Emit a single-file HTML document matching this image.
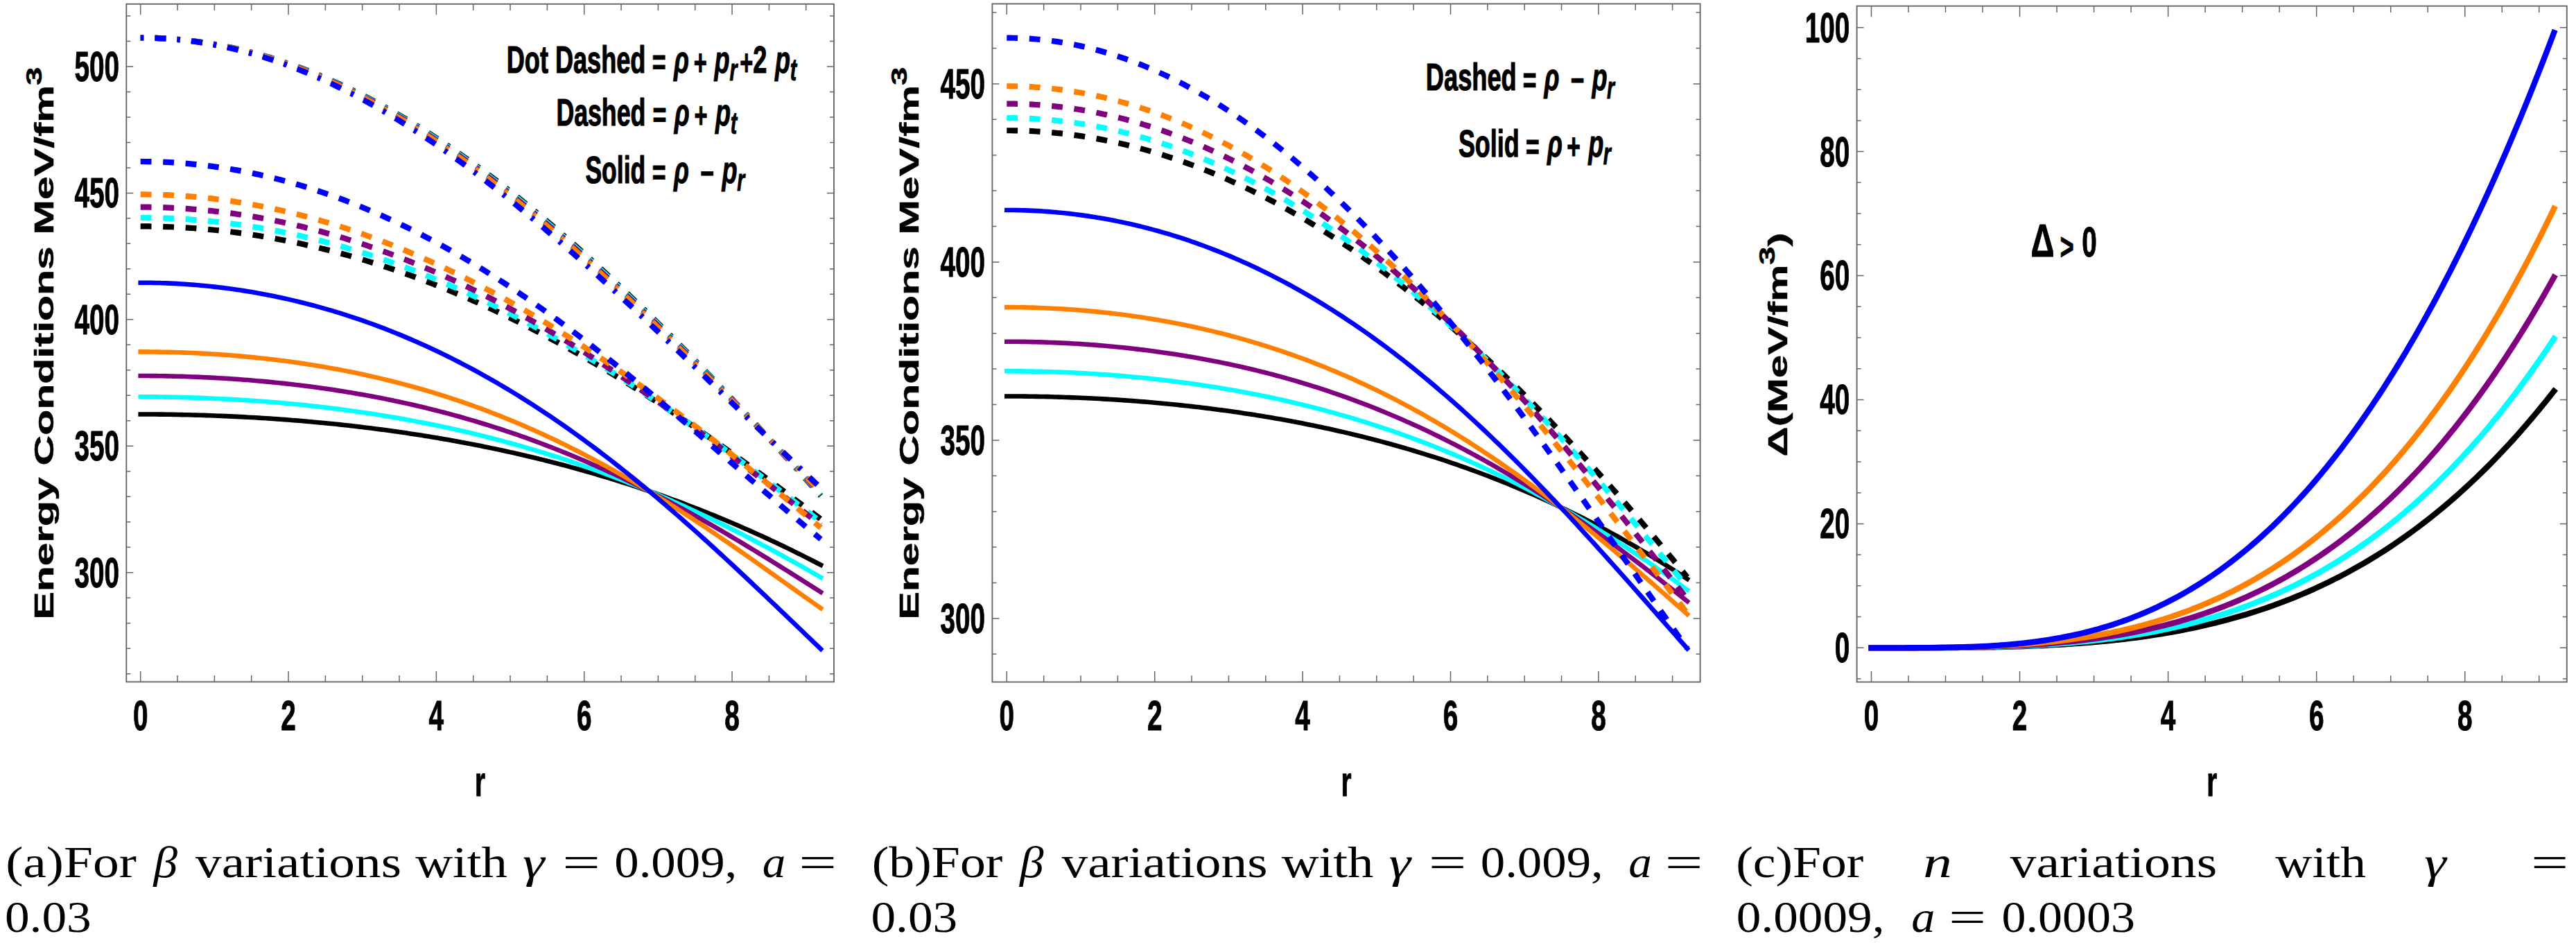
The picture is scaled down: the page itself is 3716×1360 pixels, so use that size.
<!DOCTYPE html><html><head><meta charset="utf-8"><title>Energy conditions and anisotropy</title><style>html,body{margin:0;padding:0;background:#fff}svg{display:block}</style></head><body>
<svg width="3716" height="1360" viewBox="0 0 3716 1360">
<rect width="3716" height="1360" fill="#fff"/>
<g fill="none">
<path d="M202.7 597.48 L208.03 597.48 L213.37 597.5 L218.7 597.52 L224.03 597.56 L229.37 597.6 L234.7 597.66 L240.03 597.72 L245.37 597.8 L250.7 597.88 L256.03 597.97 L261.37 598.08 L266.7 598.19 L272.04 598.32 L277.37 598.45 L282.7 598.6 L288.04 598.75 L293.37 598.92 L298.7 599.09 L304.04 599.28 L309.37 599.47 L314.7 599.68 L320.04 599.89 L325.37 600.12 L330.7 600.35 L336.04 600.6 L341.37 600.86 L346.7 601.12 L352.04 601.4 L357.37 601.69 L362.7 601.99 L368.04 602.3 L373.37 602.62 L378.71 602.95 L384.04 603.29 L389.37 603.64 L394.71 604 L400.04 604.37 L405.37 604.75 L410.71 605.15 L416.04 605.55 L421.37 605.97 L426.71 606.4 L432.04 606.83 L437.37 607.28 L442.71 607.74 L448.04 608.22 L453.37 608.7 L458.71 609.19 L464.04 609.7 L469.38 610.21 L474.71 610.74 L480.04 611.28 L485.38 611.83 L490.71 612.39 L496.04 612.97 L501.38 613.55 L506.71 614.15 L512.04 614.76 L517.38 615.38 L522.71 616.02 L528.04 616.66 L533.38 617.32 L538.71 617.99 L544.04 618.68 L549.38 619.37 L554.71 620.08 L560.04 620.8 L565.38 621.53 L570.71 622.28 L576.04 623.03 L581.38 623.8 L586.71 624.59 L592.05 625.39 L597.38 626.19 L602.71 627.02 L608.05 627.85 L613.38 628.7 L618.71 629.57 L624.05 630.44 L629.38 631.33 L634.71 632.24 L640.05 633.15 L645.38 634.08 L650.71 635.03 L656.05 635.99 L661.38 636.96 L666.71 637.95 L672.05 638.95 L677.38 639.96 L682.71 640.99 L688.05 642.04 L693.38 643.1 L698.72 644.17 L704.05 645.26 L709.38 646.36 L714.72 647.48 L720.05 648.61 L725.38 649.76 L730.72 650.92 L736.05 652.1 L741.38 653.3 L746.72 654.51 L752.05 655.73 L757.38 656.97 L762.72 658.23 L768.05 659.5 L773.38 660.79 L778.72 662.09 L784.05 663.41 L789.38 664.75 L794.72 666.1 L800.05 667.47 L805.39 668.86 L810.72 670.26 L816.05 671.68 L821.39 673.12 L826.72 674.57 L832.05 676.04 L837.39 677.53 L842.72 679.03 L848.05 680.55 L853.39 682.09 L858.72 683.65 L864.05 685.22 L869.39 686.81 L874.72 688.42 L880.05 690.05 L885.39 691.69 L890.72 693.35 L896.05 695.03 L901.39 696.73 L906.72 698.45 L912.06 700.18 L917.39 701.94 L922.72 703.71 L928.06 705.5 L933.39 707.31 L938.72 709.14 L944.06 710.98 L949.39 712.85 L954.72 714.73 L960.06 716.64 L965.39 718.56 L970.72 720.5 L976.06 722.47 L981.39 724.45 L986.72 726.45 L992.06 728.47 L997.39 730.51 L1002.72 732.57 L1008.06 734.65 L1013.39 736.75 L1018.73 738.86 L1024.06 741 L1029.39 743.16 L1034.73 745.34 L1040.06 747.54 L1045.39 749.76 L1050.73 752 L1056.06 754.26 L1061.39 756.54 L1066.73 758.84 L1072.06 761.16 L1077.39 763.51 L1082.73 765.87 L1088.06 768.25 L1093.39 770.66 L1098.73 773.08 L1104.06 775.53 L1109.39 778 L1114.73 780.49 L1120.06 783 L1125.4 785.53 L1130.73 788.08 L1136.06 790.65 L1141.4 793.24 L1146.73 795.86 L1152.06 798.5 L1157.4 801.15 L1162.73 803.83 L1168.06 806.53 L1173.4 809.25 L1178.73 812 L1184.06 814.76" stroke="#000000" stroke-width="6.6" stroke-linecap="square" stroke-linejoin="round"/>
<path d="M202.7 572.3 L208.03 572.31 L213.37 572.32 L218.7 572.35 L224.03 572.4 L229.37 572.45 L234.7 572.51 L240.03 572.59 L245.37 572.68 L250.7 572.78 L256.03 572.89 L261.37 573.02 L266.7 573.16 L272.04 573.31 L277.37 573.47 L282.7 573.64 L288.04 573.82 L293.37 574.02 L298.7 574.23 L304.04 574.45 L309.37 574.69 L314.7 574.93 L320.04 575.19 L325.37 575.46 L330.7 575.74 L336.04 576.04 L341.37 576.35 L346.7 576.67 L352.04 577 L357.37 577.35 L362.7 577.71 L368.04 578.08 L373.37 578.46 L378.71 578.86 L384.04 579.27 L389.37 579.69 L394.71 580.12 L400.04 580.57 L405.37 581.04 L410.71 581.51 L416.04 582 L421.37 582.5 L426.71 583.02 L432.04 583.55 L437.37 584.09 L442.71 584.65 L448.04 585.22 L453.37 585.8 L458.71 586.4 L464.04 587.01 L469.38 587.64 L474.71 588.28 L480.04 588.93 L485.38 589.6 L490.71 590.28 L496.04 590.98 L501.38 591.69 L506.71 592.42 L512.04 593.16 L517.38 593.92 L522.71 594.69 L528.04 595.48 L533.38 596.28 L538.71 597.1 L544.04 597.93 L549.38 598.78 L554.71 599.65 L560.04 600.53 L565.38 601.42 L570.71 602.33 L576.04 603.26 L581.38 604.2 L586.71 605.16 L592.05 606.14 L597.38 607.13 L602.71 608.14 L608.05 609.17 L613.38 610.21 L618.71 611.27 L624.05 612.35 L629.38 613.44 L634.71 614.55 L640.05 615.68 L645.38 616.82 L650.71 617.99 L656.05 619.17 L661.38 620.36 L666.71 621.58 L672.05 622.81 L677.38 624.06 L682.71 625.33 L688.05 626.62 L693.38 627.93 L698.72 629.25 L704.05 630.59 L709.38 631.96 L714.72 633.34 L720.05 634.73 L725.38 636.15 L730.72 637.59 L736.05 639.04 L741.38 640.52 L746.72 642.01 L752.05 643.52 L757.38 645.06 L762.72 646.61 L768.05 648.18 L773.38 649.77 L778.72 651.38 L784.05 653.01 L789.38 654.66 L794.72 656.33 L800.05 658.02 L805.39 659.73 L810.72 661.46 L816.05 663.21 L821.39 664.98 L826.72 666.77 L832.05 668.59 L837.39 670.42 L842.72 672.27 L848.05 674.14 L853.39 676.03 L858.72 677.95 L864.05 679.88 L869.39 681.84 L874.72 683.81 L880.05 685.81 L885.39 687.83 L890.72 689.86 L896.05 691.92 L901.39 694 L906.72 696.1 L912.06 698.22 L917.39 700.37 L922.72 702.53 L928.06 704.71 L933.39 706.92 L938.72 709.14 L944.06 711.39 L949.39 713.66 L954.72 715.94 L960.06 718.25 L965.39 720.58 L970.72 722.93 L976.06 725.3 L981.39 727.69 L986.72 730.1 L992.06 732.53 L997.39 734.99 L1002.72 737.46 L1008.06 739.95 L1013.39 742.46 L1018.73 745 L1024.06 747.55 L1029.39 750.12 L1034.73 752.71 L1040.06 755.33 L1045.39 757.96 L1050.73 760.61 L1056.06 763.28 L1061.39 765.97 L1066.73 768.68 L1072.06 771.4 L1077.39 774.15 L1082.73 776.92 L1088.06 779.7 L1093.39 782.5 L1098.73 785.32 L1104.06 788.15 L1109.39 791.01 L1114.73 793.88 L1120.06 796.77 L1125.4 799.68 L1130.73 802.6 L1136.06 805.54 L1141.4 808.49 L1146.73 811.46 L1152.06 814.45 L1157.4 817.45 L1162.73 820.47 L1168.06 823.5 L1173.4 826.55 L1178.73 829.61 L1184.06 832.69" stroke="#00ffff" stroke-width="6.6" stroke-linecap="square" stroke-linejoin="round"/>
<path d="M202.7 542.04 L208.03 542.05 L213.37 542.07 L218.7 542.1 L224.03 542.15 L229.37 542.22 L234.7 542.3 L240.03 542.39 L245.37 542.49 L250.7 542.61 L256.03 542.75 L261.37 542.9 L266.7 543.06 L272.04 543.24 L277.37 543.43 L282.7 543.64 L288.04 543.86 L293.37 544.1 L298.7 544.35 L304.04 544.61 L309.37 544.89 L314.7 545.19 L320.04 545.5 L325.37 545.82 L330.7 546.16 L336.04 546.52 L341.37 546.89 L346.7 547.27 L352.04 547.67 L357.37 548.08 L362.7 548.52 L368.04 548.96 L373.37 549.42 L378.71 549.9 L384.04 550.39 L389.37 550.9 L394.71 551.43 L400.04 551.97 L405.37 552.52 L410.71 553.1 L416.04 553.69 L421.37 554.29 L426.71 554.91 L432.04 555.55 L437.37 556.21 L442.71 556.88 L448.04 557.57 L453.37 558.28 L458.71 559 L464.04 559.74 L469.38 560.5 L474.71 561.28 L480.04 562.07 L485.38 562.88 L490.71 563.71 L496.04 564.56 L501.38 565.43 L506.71 566.31 L512.04 567.22 L517.38 568.14 L522.71 569.08 L528.04 570.04 L533.38 571.02 L538.71 572.01 L544.04 573.03 L549.38 574.06 L554.71 575.12 L560.04 576.2 L565.38 577.29 L570.71 578.4 L576.04 579.54 L581.38 580.69 L586.71 581.87 L592.05 583.07 L597.38 584.28 L602.71 585.52 L608.05 586.78 L613.38 588.06 L618.71 589.36 L624.05 590.68 L629.38 592.02 L634.71 593.39 L640.05 594.77 L645.38 596.18 L650.71 597.61 L656.05 599.06 L661.38 600.54 L666.71 602.03 L672.05 603.55 L677.38 605.09 L682.71 606.66 L688.05 608.24 L693.38 609.85 L698.72 611.48 L704.05 613.14 L709.38 614.82 L714.72 616.52 L720.05 618.24 L725.38 619.99 L730.72 621.76 L736.05 623.56 L741.38 625.38 L746.72 627.22 L752.05 629.09 L757.38 630.98 L762.72 632.89 L768.05 634.83 L773.38 636.79 L778.72 638.78 L784.05 640.79 L789.38 642.83 L794.72 644.89 L800.05 646.97 L805.39 649.08 L810.72 651.21 L816.05 653.37 L821.39 655.55 L826.72 657.75 L832.05 659.98 L837.39 662.24 L842.72 664.52 L848.05 666.82 L853.39 669.15 L858.72 671.5 L864.05 673.87 L869.39 676.27 L874.72 678.7 L880.05 681.15 L885.39 683.62 L890.72 686.11 L896.05 688.63 L901.39 691.18 L906.72 693.75 L912.06 696.34 L917.39 698.95 L922.72 701.59 L928.06 704.25 L933.39 706.94 L938.72 709.64 L944.06 712.37 L949.39 715.13 L954.72 717.9 L960.06 720.7 L965.39 723.52 L970.72 726.36 L976.06 729.22 L981.39 732.1 L986.72 735.01 L992.06 737.93 L997.39 740.88 L1002.72 743.85 L1008.06 746.83 L1013.39 749.84 L1018.73 752.87 L1024.06 755.91 L1029.39 758.97 L1034.73 762.06 L1040.06 765.16 L1045.39 768.27 L1050.73 771.41 L1056.06 774.56 L1061.39 777.73 L1066.73 780.91 L1072.06 784.11 L1077.39 787.33 L1082.73 790.56 L1088.06 793.8 L1093.39 797.06 L1098.73 800.33 L1104.06 803.61 L1109.39 806.9 L1114.73 810.21 L1120.06 813.53 L1125.4 816.85 L1130.73 820.19 L1136.06 823.54 L1141.4 826.89 L1146.73 830.25 L1152.06 833.62 L1157.4 837 L1162.73 840.38 L1168.06 843.76 L1173.4 847.15 L1178.73 850.55 L1184.06 853.94" stroke="#800080" stroke-width="6.6" stroke-linecap="square" stroke-linejoin="round"/>
<path d="M202.7 507.38 L208.03 507.39 L213.37 507.41 L218.7 507.45 L224.03 507.51 L229.37 507.59 L234.7 507.68 L240.03 507.79 L245.37 507.92 L250.7 508.06 L256.03 508.22 L261.37 508.4 L266.7 508.6 L272.04 508.81 L277.37 509.04 L282.7 509.29 L288.04 509.55 L293.37 509.83 L298.7 510.13 L304.04 510.45 L309.37 510.78 L314.7 511.13 L320.04 511.5 L325.37 511.89 L330.7 512.3 L336.04 512.72 L341.37 513.16 L346.7 513.62 L352.04 514.1 L357.37 514.6 L362.7 515.11 L368.04 515.64 L373.37 516.2 L378.71 516.77 L384.04 517.36 L389.37 517.97 L394.71 518.6 L400.04 519.25 L405.37 519.91 L410.71 520.6 L416.04 521.31 L421.37 522.03 L426.71 522.78 L432.04 523.55 L437.37 524.34 L442.71 525.14 L448.04 525.97 L453.37 526.82 L458.71 527.69 L464.04 528.58 L469.38 529.5 L474.71 530.43 L480.04 531.39 L485.38 532.36 L490.71 533.36 L496.04 534.38 L501.38 535.43 L506.71 536.49 L512.04 537.58 L517.38 538.69 L522.71 539.83 L528.04 540.99 L533.38 542.17 L538.71 543.37 L544.04 544.6 L549.38 545.85 L554.71 547.13 L560.04 548.43 L565.38 549.75 L570.71 551.1 L576.04 552.47 L581.38 553.87 L586.71 555.29 L592.05 556.74 L597.38 558.21 L602.71 559.71 L608.05 561.23 L613.38 562.78 L618.71 564.36 L624.05 565.96 L629.38 567.59 L634.71 569.24 L640.05 570.92 L645.38 572.63 L650.71 574.36 L656.05 576.13 L661.38 577.91 L666.71 579.73 L672.05 581.57 L677.38 583.44 L682.71 585.34 L688.05 587.27 L693.38 589.22 L698.72 591.2 L704.05 593.21 L709.38 595.25 L714.72 597.32 L720.05 599.41 L725.38 601.53 L730.72 603.69 L736.05 605.87 L741.38 608.07 L746.72 610.31 L752.05 612.58 L757.38 614.87 L762.72 617.2 L768.05 619.55 L773.38 621.93 L778.72 624.34 L784.05 626.78 L789.38 629.25 L794.72 631.75 L800.05 634.28 L805.39 636.83 L810.72 639.42 L816.05 642.03 L821.39 644.67 L826.72 647.34 L832.05 650.04 L837.39 652.77 L842.72 655.53 L848.05 658.32 L853.39 661.13 L858.72 663.97 L864.05 666.84 L869.39 669.74 L874.72 672.67 L880.05 675.62 L885.39 678.6 L890.72 681.61 L896.05 684.65 L901.39 687.71 L906.72 690.8 L912.06 693.92 L917.39 697.06 L922.72 700.23 L928.06 703.42 L933.39 706.64 L938.72 709.89 L944.06 713.16 L949.39 716.45 L954.72 719.77 L960.06 723.11 L965.39 726.47 L970.72 729.86 L976.06 733.27 L981.39 736.7 L986.72 740.16 L992.06 743.63 L997.39 747.13 L1002.72 750.64 L1008.06 754.18 L1013.39 757.73 L1018.73 761.3 L1024.06 764.89 L1029.39 768.5 L1034.73 772.13 L1040.06 775.77 L1045.39 779.42 L1050.73 783.09 L1056.06 786.78 L1061.39 790.47 L1066.73 794.18 L1072.06 797.91 L1077.39 801.64 L1082.73 805.38 L1088.06 809.13 L1093.39 812.89 L1098.73 816.66 L1104.06 820.44 L1109.39 824.22 L1114.73 828 L1120.06 831.79 L1125.4 835.58 L1130.73 839.37 L1136.06 843.17 L1141.4 846.96 L1146.73 850.75 L1152.06 854.54 L1157.4 858.32 L1162.73 862.1 L1168.06 865.88 L1173.4 869.64 L1178.73 873.4 L1184.06 877.14" stroke="#ff8000" stroke-width="6.6" stroke-linecap="square" stroke-linejoin="round"/>
<path d="M202.7 407.69 L208.03 407.7 L213.37 407.75 L218.7 407.82 L224.03 407.93 L229.37 408.06 L234.7 408.22 L240.03 408.42 L245.37 408.64 L250.7 408.89 L256.03 409.17 L261.37 409.48 L266.7 409.83 L272.04 410.2 L277.37 410.6 L282.7 411.03 L288.04 411.49 L293.37 411.98 L298.7 412.5 L304.04 413.05 L309.37 413.64 L314.7 414.25 L320.04 414.89 L325.37 415.56 L330.7 416.26 L336.04 416.99 L341.37 417.76 L346.7 418.55 L352.04 419.37 L357.37 420.23 L362.7 421.11 L368.04 422.03 L373.37 422.97 L378.71 423.95 L384.04 424.96 L389.37 425.99 L394.71 427.06 L400.04 428.16 L405.37 429.3 L410.71 430.46 L416.04 431.65 L421.37 432.88 L426.71 434.14 L432.04 435.42 L437.37 436.74 L442.71 438.1 L448.04 439.48 L453.37 440.89 L458.71 442.34 L464.04 443.82 L469.38 445.33 L474.71 446.88 L480.04 448.45 L485.38 450.06 L490.71 451.7 L496.04 453.37 L501.38 455.08 L506.71 456.82 L512.04 458.59 L517.38 460.39 L522.71 462.23 L528.04 464.1 L533.38 466 L538.71 467.94 L544.04 469.91 L549.38 471.91 L554.71 473.95 L560.04 476.02 L565.38 478.12 L570.71 480.26 L576.04 482.43 L581.38 484.63 L586.71 486.87 L592.05 489.14 L597.38 491.45 L602.71 493.79 L608.05 496.17 L613.38 498.58 L618.71 501.02 L624.05 503.5 L629.38 506.01 L634.71 508.56 L640.05 511.14 L645.38 513.75 L650.71 516.4 L656.05 519.09 L661.38 521.81 L666.71 524.56 L672.05 527.35 L677.38 530.17 L682.71 533.03 L688.05 535.92 L693.38 538.85 L698.72 541.82 L704.05 544.81 L709.38 547.85 L714.72 550.91 L720.05 554.02 L725.38 557.15 L730.72 560.33 L736.05 563.53 L741.38 566.77 L746.72 570.05 L752.05 573.36 L757.38 576.71 L762.72 580.09 L768.05 583.5 L773.38 586.95 L778.72 590.43 L784.05 593.95 L789.38 597.5 L794.72 601.09 L800.05 604.71 L805.39 608.37 L810.72 612.05 L816.05 615.78 L821.39 619.53 L826.72 623.32 L832.05 627.14 L837.39 631 L842.72 634.89 L848.05 638.81 L853.39 642.76 L858.72 646.75 L864.05 650.76 L869.39 654.81 L874.72 658.9 L880.05 663.01 L885.39 667.16 L890.72 671.33 L896.05 675.54 L901.39 679.78 L906.72 684.04 L912.06 688.34 L917.39 692.67 L922.72 697.03 L928.06 701.41 L933.39 705.83 L938.72 710.27 L944.06 714.74 L949.39 719.24 L954.72 723.76 L960.06 728.31 L965.39 732.89 L970.72 737.5 L976.06 742.13 L981.39 746.78 L986.72 751.46 L992.06 756.16 L997.39 760.89 L1002.72 765.64 L1008.06 770.41 L1013.39 775.21 L1018.73 780.02 L1024.06 784.86 L1029.39 789.72 L1034.73 794.59 L1040.06 799.49 L1045.39 804.4 L1050.73 809.33 L1056.06 814.28 L1061.39 819.24 L1066.73 824.22 L1072.06 829.22 L1077.39 834.23 L1082.73 839.25 L1088.06 844.28 L1093.39 849.33 L1098.73 854.38 L1104.06 859.45 L1109.39 864.52 L1114.73 869.61 L1120.06 874.7 L1125.4 879.79 L1130.73 884.89 L1136.06 890 L1141.4 895.11 L1146.73 900.22 L1152.06 905.34 L1157.4 910.45 L1162.73 915.56 L1168.06 920.67 L1173.4 925.78 L1178.73 930.88 L1184.06 935.98" stroke="#0000ff" stroke-width="6.6" stroke-linecap="square" stroke-linejoin="round"/>
<path d="M202.7 326.41 L208.03 326.42 L213.37 326.46 L218.7 326.53 L224.03 326.62 L229.37 326.74 L234.7 326.89 L240.03 327.07 L245.37 327.27 L250.7 327.49 L256.03 327.75 L261.37 328.03 L266.7 328.33 L272.04 328.67 L277.37 329.03 L282.7 329.41 L288.04 329.83 L293.37 330.27 L298.7 330.73 L304.04 331.23 L309.37 331.75 L314.7 332.29 L320.04 332.87 L325.37 333.47 L330.7 334.09 L336.04 334.75 L341.37 335.43 L346.7 336.13 L352.04 336.87 L357.37 337.63 L362.7 338.41 L368.04 339.23 L373.37 340.07 L378.71 340.93 L384.04 341.82 L389.37 342.74 L394.71 343.69 L400.04 344.66 L405.37 345.66 L410.71 346.69 L416.04 347.74 L421.37 348.82 L426.71 349.92 L432.04 351.05 L437.37 352.21 L442.71 353.39 L448.04 354.6 L453.37 355.84 L458.71 357.1 L464.04 358.39 L469.38 359.71 L474.71 361.05 L480.04 362.42 L485.38 363.81 L490.71 365.24 L496.04 366.68 L501.38 368.16 L506.71 369.66 L512.04 371.18 L517.38 372.74 L522.71 374.31 L528.04 375.92 L533.38 377.55 L538.71 379.21 L544.04 380.89 L549.38 382.6 L554.71 384.33 L560.04 386.09 L565.38 387.88 L570.71 389.69 L576.04 391.53 L581.38 393.39 L586.71 395.28 L592.05 397.2 L597.38 399.14 L602.71 401.11 L608.05 403.1 L613.38 405.12 L618.71 407.16 L624.05 409.23 L629.38 411.33 L634.71 413.45 L640.05 415.59 L645.38 417.76 L650.71 419.96 L656.05 422.18 L661.38 424.43 L666.71 426.7 L672.05 429 L677.38 431.32 L682.71 433.66 L688.05 436.04 L693.38 438.43 L698.72 440.85 L704.05 443.3 L709.38 445.77 L714.72 448.26 L720.05 450.78 L725.38 453.33 L730.72 455.89 L736.05 458.49 L741.38 461.1 L746.72 463.74 L752.05 466.41 L757.38 469.1 L762.72 471.81 L768.05 474.54 L773.38 477.3 L778.72 480.09 L784.05 482.89 L789.38 485.72 L794.72 488.57 L800.05 491.45 L805.39 494.35 L810.72 497.27 L816.05 500.22 L821.39 503.18 L826.72 506.17 L832.05 509.19 L837.39 512.22 L842.72 515.28 L848.05 518.36 L853.39 521.46 L858.72 524.58 L864.05 527.72 L869.39 530.89 L874.72 534.08 L880.05 537.29 L885.39 540.52 L890.72 543.77 L896.05 547.04 L901.39 550.33 L906.72 553.64 L912.06 556.98 L917.39 560.33 L922.72 563.7 L928.06 567.1 L933.39 570.51 L938.72 573.94 L944.06 577.39 L949.39 580.86 L954.72 584.35 L960.06 587.86 L965.39 591.38 L970.72 594.93 L976.06 598.49 L981.39 602.07 L986.72 605.67 L992.06 609.28 L997.39 612.92 L1002.72 616.57 L1008.06 620.23 L1013.39 623.91 L1018.73 627.61 L1024.06 631.33 L1029.39 635.06 L1034.73 638.81 L1040.06 642.57 L1045.39 646.34 L1050.73 650.13 L1056.06 653.94 L1061.39 657.76 L1066.73 661.59 L1072.06 665.44 L1077.39 669.3 L1082.73 673.17 L1088.06 677.06 L1093.39 680.96 L1098.73 684.87 L1104.06 688.79 L1109.39 692.73 L1114.73 696.67 L1120.06 700.63 L1125.4 704.59 L1130.73 708.57 L1136.06 712.55 L1141.4 716.55 L1146.73 720.55 L1152.06 724.57 L1157.4 728.59 L1162.73 732.62 L1168.06 736.65 L1173.4 740.7 L1178.73 744.75 L1184.06 748.8" stroke="#000000" stroke-width="8.2" stroke-dasharray="15.8 16.7" stroke-linecap="butt" stroke-linejoin="round"/>
<path d="M202.7 313.98 L208.03 314 L213.37 314.04 L218.7 314.11 L224.03 314.21 L229.37 314.33 L234.7 314.49 L240.03 314.67 L245.37 314.88 L250.7 315.12 L256.03 315.38 L261.37 315.68 L266.7 316 L272.04 316.35 L277.37 316.73 L282.7 317.14 L288.04 317.57 L293.37 318.03 L298.7 318.52 L304.04 319.04 L309.37 319.59 L314.7 320.16 L320.04 320.76 L325.37 321.39 L330.7 322.05 L336.04 322.74 L341.37 323.45 L346.7 324.2 L352.04 324.97 L357.37 325.76 L362.7 326.59 L368.04 327.44 L373.37 328.32 L378.71 329.23 L384.04 330.17 L389.37 331.14 L394.71 332.13 L400.04 333.15 L405.37 334.2 L410.71 335.28 L416.04 336.38 L421.37 337.51 L426.71 338.67 L432.04 339.86 L437.37 341.08 L442.71 342.32 L448.04 343.59 L453.37 344.89 L458.71 346.22 L464.04 347.57 L469.38 348.96 L474.71 350.37 L480.04 351.8 L485.38 353.27 L490.71 354.76 L496.04 356.28 L501.38 357.83 L506.71 359.4 L512.04 361 L517.38 362.63 L522.71 364.29 L528.04 365.98 L533.38 367.69 L538.71 369.43 L544.04 371.19 L549.38 372.99 L554.71 374.81 L560.04 376.66 L565.38 378.53 L570.71 380.44 L576.04 382.37 L581.38 384.32 L586.71 386.31 L592.05 388.32 L597.38 390.35 L602.71 392.42 L608.05 394.51 L613.38 396.63 L618.71 398.77 L624.05 400.94 L629.38 403.14 L634.71 405.36 L640.05 407.62 L645.38 409.89 L650.71 412.2 L656.05 414.53 L661.38 416.88 L666.71 419.26 L672.05 421.67 L677.38 424.11 L682.71 426.57 L688.05 429.05 L693.38 431.56 L698.72 434.1 L704.05 436.67 L709.38 439.25 L714.72 441.87 L720.05 444.51 L725.38 447.17 L730.72 449.86 L736.05 452.58 L741.38 455.32 L746.72 458.08 L752.05 460.87 L757.38 463.69 L762.72 466.52 L768.05 469.39 L773.38 472.28 L778.72 475.19 L784.05 478.12 L789.38 481.08 L794.72 484.07 L800.05 487.07 L805.39 490.1 L810.72 493.16 L816.05 496.24 L821.39 499.34 L826.72 502.46 L832.05 505.61 L837.39 508.78 L842.72 511.97 L848.05 515.18 L853.39 518.42 L858.72 521.68 L864.05 524.96 L869.39 528.26 L874.72 531.58 L880.05 534.93 L885.39 538.29 L890.72 541.68 L896.05 545.09 L901.39 548.52 L906.72 551.97 L912.06 555.43 L917.39 558.92 L922.72 562.43 L928.06 565.96 L933.39 569.51 L938.72 573.07 L944.06 576.66 L949.39 580.26 L954.72 583.89 L960.06 587.53 L965.39 591.18 L970.72 594.86 L976.06 598.55 L981.39 602.26 L986.72 605.99 L992.06 609.73 L997.39 613.49 L1002.72 617.27 L1008.06 621.06 L1013.39 624.86 L1018.73 628.68 L1024.06 632.52 L1029.39 636.37 L1034.73 640.24 L1040.06 644.11 L1045.39 648.01 L1050.73 651.91 L1056.06 655.83 L1061.39 659.76 L1066.73 663.7 L1072.06 667.65 L1077.39 671.62 L1082.73 675.59 L1088.06 679.58 L1093.39 683.57 L1098.73 687.58 L1104.06 691.59 L1109.39 695.62 L1114.73 699.65 L1120.06 703.69 L1125.4 707.74 L1130.73 711.79 L1136.06 715.85 L1141.4 719.92 L1146.73 723.99 L1152.06 728.07 L1157.4 732.16 L1162.73 736.24 L1168.06 740.34 L1173.4 744.43 L1178.73 748.53 L1184.06 752.63" stroke="#00ffff" stroke-width="8.2" stroke-dasharray="15.8 16.7" stroke-linecap="butt" stroke-linejoin="round"/>
<path d="M202.7 298.66 L208.03 298.67 L213.37 298.72 L218.7 298.79 L224.03 298.89 L229.37 299.03 L234.7 299.19 L240.03 299.38 L245.37 299.61 L250.7 299.86 L256.03 300.14 L261.37 300.45 L266.7 300.79 L272.04 301.17 L277.37 301.57 L282.7 302 L288.04 302.46 L293.37 302.95 L298.7 303.47 L304.04 304.01 L309.37 304.59 L314.7 305.2 L320.04 305.84 L325.37 306.51 L330.7 307.2 L336.04 307.93 L341.37 308.69 L346.7 309.47 L352.04 310.29 L357.37 311.13 L362.7 312.01 L368.04 312.91 L373.37 313.85 L378.71 314.81 L384.04 315.8 L389.37 316.83 L394.71 317.88 L400.04 318.96 L405.37 320.07 L410.71 321.21 L416.04 322.38 L421.37 323.58 L426.71 324.81 L432.04 326.07 L437.37 327.35 L442.71 328.67 L448.04 330.02 L453.37 331.39 L458.71 332.8 L464.04 334.23 L469.38 335.7 L474.71 337.19 L480.04 338.71 L485.38 340.26 L490.71 341.84 L496.04 343.45 L501.38 345.09 L506.71 346.76 L512.04 348.45 L517.38 350.18 L522.71 351.93 L528.04 353.72 L533.38 355.53 L538.71 357.37 L544.04 359.24 L549.38 361.14 L554.71 363.07 L560.04 365.02 L565.38 367.01 L570.71 369.02 L576.04 371.06 L581.38 373.14 L586.71 375.23 L592.05 377.36 L597.38 379.52 L602.71 381.7 L608.05 383.91 L613.38 386.16 L618.71 388.42 L624.05 390.72 L629.38 393.05 L634.71 395.4 L640.05 397.78 L645.38 400.19 L650.71 402.62 L656.05 405.09 L661.38 407.58 L666.71 410.1 L672.05 412.64 L677.38 415.21 L682.71 417.81 L688.05 420.44 L693.38 423.1 L698.72 425.78 L704.05 428.49 L709.38 431.22 L714.72 433.98 L720.05 436.77 L725.38 439.58 L730.72 442.42 L736.05 445.29 L741.38 448.18 L746.72 451.1 L752.05 454.04 L757.38 457.01 L762.72 460.01 L768.05 463.03 L773.38 466.08 L778.72 469.15 L784.05 472.24 L789.38 475.36 L794.72 478.51 L800.05 481.68 L805.39 484.87 L810.72 488.09 L816.05 491.33 L821.39 494.59 L826.72 497.88 L832.05 501.19 L837.39 504.53 L842.72 507.89 L848.05 511.27 L853.39 514.67 L858.72 518.1 L864.05 521.55 L869.39 525.01 L874.72 528.51 L880.05 532.02 L885.39 535.55 L890.72 539.11 L896.05 542.68 L901.39 546.28 L906.72 549.9 L912.06 553.53 L917.39 557.19 L922.72 560.87 L928.06 564.56 L933.39 568.27 L938.72 572.01 L944.06 575.76 L949.39 579.53 L954.72 583.31 L960.06 587.12 L965.39 590.94 L970.72 594.77 L976.06 598.63 L981.39 602.5 L986.72 606.38 L992.06 610.28 L997.39 614.2 L1002.72 618.13 L1008.06 622.07 L1013.39 626.03 L1018.73 630.01 L1024.06 633.99 L1029.39 637.99 L1034.73 642 L1040.06 646.02 L1045.39 650.05 L1050.73 654.1 L1056.06 658.15 L1061.39 662.22 L1066.73 666.29 L1072.06 670.38 L1077.39 674.47 L1082.73 678.57 L1088.06 682.68 L1093.39 686.79 L1098.73 690.92 L1104.06 695.05 L1109.39 699.18 L1114.73 703.32 L1120.06 707.46 L1125.4 711.61 L1130.73 715.77 L1136.06 719.92 L1141.4 724.08 L1146.73 728.24 L1152.06 732.4 L1157.4 736.56 L1162.73 740.72 L1168.06 744.88 L1173.4 749.04 L1178.73 753.19 L1184.06 757.35" stroke="#800080" stroke-width="8.2" stroke-dasharray="15.8 16.7" stroke-linecap="butt" stroke-linejoin="round"/>
<path d="M202.7 280.43 L208.03 280.44 L213.37 280.49 L218.7 280.57 L224.03 280.68 L229.37 280.83 L234.7 281 L240.03 281.21 L245.37 281.45 L250.7 281.72 L256.03 282.03 L261.37 282.36 L266.7 282.73 L272.04 283.13 L277.37 283.56 L282.7 284.03 L288.04 284.52 L293.37 285.05 L298.7 285.61 L304.04 286.2 L309.37 286.83 L314.7 287.48 L320.04 288.17 L325.37 288.89 L330.7 289.64 L336.04 290.42 L341.37 291.23 L346.7 292.08 L352.04 292.95 L357.37 293.86 L362.7 294.8 L368.04 295.77 L373.37 296.78 L378.71 297.81 L384.04 298.88 L389.37 299.97 L394.71 301.1 L400.04 302.26 L405.37 303.45 L410.71 304.68 L416.04 305.93 L421.37 307.21 L426.71 308.53 L432.04 309.87 L437.37 311.25 L442.71 312.66 L448.04 314.1 L453.37 315.57 L458.71 317.07 L464.04 318.6 L469.38 320.16 L474.71 321.75 L480.04 323.38 L485.38 325.03 L490.71 326.71 L496.04 328.43 L501.38 330.17 L506.71 331.95 L512.04 333.75 L517.38 335.59 L522.71 337.45 L528.04 339.34 L533.38 341.27 L538.71 343.22 L544.04 345.2 L549.38 347.22 L554.71 349.26 L560.04 351.33 L565.38 353.43 L570.71 355.56 L576.04 357.72 L581.38 359.91 L586.71 362.13 L592.05 364.38 L597.38 366.65 L602.71 368.95 L608.05 371.29 L613.38 373.65 L618.71 376.04 L624.05 378.46 L629.38 380.9 L634.71 383.38 L640.05 385.88 L645.38 388.41 L650.71 390.97 L656.05 393.55 L661.38 396.16 L666.71 398.8 L672.05 401.47 L677.38 404.17 L682.71 406.89 L688.05 409.64 L693.38 412.41 L698.72 415.22 L704.05 418.05 L709.38 420.9 L714.72 423.79 L720.05 426.69 L725.38 429.63 L730.72 432.59 L736.05 435.58 L741.38 438.59 L746.72 441.63 L752.05 444.69 L757.38 447.78 L762.72 450.89 L768.05 454.03 L773.38 457.2 L778.72 460.39 L784.05 463.6 L789.38 466.84 L794.72 470.1 L800.05 473.39 L805.39 476.7 L810.72 480.03 L816.05 483.39 L821.39 486.77 L826.72 490.18 L832.05 493.6 L837.39 497.06 L842.72 500.53 L848.05 504.03 L853.39 507.55 L858.72 511.09 L864.05 514.65 L869.39 518.24 L874.72 521.84 L880.05 525.47 L885.39 529.12 L890.72 532.8 L896.05 536.49 L901.39 540.2 L906.72 543.94 L912.06 547.69 L917.39 551.47 L922.72 555.26 L928.06 559.08 L933.39 562.91 L938.72 566.77 L944.06 570.64 L949.39 574.54 L954.72 578.45 L960.06 582.38 L965.39 586.33 L970.72 590.3 L976.06 594.28 L981.39 598.28 L986.72 602.3 L992.06 606.34 L997.39 610.4 L1002.72 614.47 L1008.06 618.56 L1013.39 622.66 L1018.73 626.79 L1024.06 630.92 L1029.39 635.08 L1034.73 639.24 L1040.06 643.43 L1045.39 647.63 L1050.73 651.84 L1056.06 656.07 L1061.39 660.31 L1066.73 664.57 L1072.06 668.84 L1077.39 673.12 L1082.73 677.41 L1088.06 681.72 L1093.39 686.04 L1098.73 690.38 L1104.06 694.72 L1109.39 699.08 L1114.73 703.45 L1120.06 707.83 L1125.4 712.22 L1130.73 716.62 L1136.06 721.04 L1141.4 725.46 L1146.73 729.89 L1152.06 734.33 L1157.4 738.78 L1162.73 743.24 L1168.06 747.71 L1173.4 752.18 L1178.73 756.67 L1184.06 761.16" stroke="#ff8000" stroke-width="8.2" stroke-dasharray="15.8 16.7" stroke-linecap="butt" stroke-linejoin="round"/>
<path d="M202.7 232.96 L208.03 232.98 L213.37 233.04 L218.7 233.13 L224.03 233.26 L229.37 233.42 L234.7 233.63 L240.03 233.86 L245.37 234.14 L250.7 234.45 L256.03 234.8 L261.37 235.19 L266.7 235.61 L272.04 236.07 L277.37 236.57 L282.7 237.1 L288.04 237.67 L293.37 238.28 L298.7 238.92 L304.04 239.6 L309.37 240.32 L314.7 241.07 L320.04 241.87 L325.37 242.69 L330.7 243.56 L336.04 244.46 L341.37 245.39 L346.7 246.37 L352.04 247.38 L357.37 248.43 L362.7 249.51 L368.04 250.63 L373.37 251.79 L378.71 252.98 L384.04 254.21 L389.37 255.48 L394.71 256.78 L400.04 258.12 L405.37 259.5 L410.71 260.91 L416.04 262.36 L421.37 263.85 L426.71 265.37 L432.04 266.93 L437.37 268.53 L442.71 270.16 L448.04 271.82 L453.37 273.53 L458.71 275.27 L464.04 277.04 L469.38 278.86 L474.71 280.71 L480.04 282.59 L485.38 284.51 L490.71 286.47 L496.04 288.46 L501.38 290.49 L506.71 292.55 L512.04 294.65 L517.38 296.79 L522.71 298.96 L528.04 301.17 L533.38 303.41 L538.71 305.69 L544.04 308 L549.38 310.35 L554.71 312.74 L560.04 315.16 L565.38 317.61 L570.71 320.1 L576.04 322.62 L581.38 325.18 L586.71 327.78 L592.05 330.41 L597.38 333.07 L602.71 335.77 L608.05 338.5 L613.38 341.27 L618.71 344.07 L624.05 346.9 L629.38 349.77 L634.71 352.68 L640.05 355.61 L645.38 358.58 L650.71 361.59 L656.05 364.62 L661.38 367.69 L666.71 370.79 L672.05 373.93 L677.38 377.1 L682.71 380.3 L688.05 383.53 L693.38 386.8 L698.72 390.09 L704.05 393.42 L709.38 396.78 L714.72 400.18 L720.05 403.6 L725.38 407.05 L730.72 410.54 L736.05 414.05 L741.38 417.6 L746.72 421.18 L752.05 424.78 L757.38 428.42 L762.72 432.08 L768.05 435.78 L773.38 439.5 L778.72 443.25 L784.05 447.03 L789.38 450.84 L794.72 454.68 L800.05 458.54 L805.39 462.43 L810.72 466.35 L816.05 470.29 L821.39 474.26 L826.72 478.26 L832.05 482.28 L837.39 486.32 L842.72 490.39 L848.05 494.49 L853.39 498.61 L858.72 502.75 L864.05 506.92 L869.39 511.11 L874.72 515.32 L880.05 519.55 L885.39 523.81 L890.72 528.08 L896.05 532.38 L901.39 536.69 L906.72 541.03 L912.06 545.39 L917.39 549.76 L922.72 554.15 L928.06 558.56 L933.39 562.99 L938.72 567.43 L944.06 571.89 L949.39 576.37 L954.72 580.86 L960.06 585.36 L965.39 589.88 L970.72 594.41 L976.06 598.95 L981.39 603.51 L986.72 608.07 L992.06 612.65 L997.39 617.24 L1002.72 621.83 L1008.06 626.44 L1013.39 631.05 L1018.73 635.67 L1024.06 640.29 L1029.39 644.92 L1034.73 649.56 L1040.06 654.19 L1045.39 658.84 L1050.73 663.48 L1056.06 668.13 L1061.39 672.77 L1066.73 677.42 L1072.06 682.06 L1077.39 686.7 L1082.73 691.34 L1088.06 695.98 L1093.39 700.61 L1098.73 705.23 L1104.06 709.85 L1109.39 714.46 L1114.73 719.06 L1120.06 723.65 L1125.4 728.23 L1130.73 732.8 L1136.06 737.35 L1141.4 741.9 L1146.73 746.42 L1152.06 750.93 L1157.4 755.42 L1162.73 759.89 L1168.06 764.35 L1173.4 768.78 L1178.73 773.19 L1184.06 777.57" stroke="#0000ff" stroke-width="8.2" stroke-dasharray="15.8 16.7" stroke-linecap="butt" stroke-linejoin="round"/>
<path d="M202.7 54.48 L208.03 54.5 L213.37 54.57 L218.7 54.69 L224.03 54.86 L229.37 55.07 L234.7 55.33 L240.03 55.63 L245.37 55.98 L250.7 56.38 L256.03 56.83 L261.37 57.32 L266.7 57.86 L272.04 58.44 L277.37 59.07 L282.7 59.75 L288.04 60.48 L293.37 61.25 L298.7 62.07 L304.04 62.93 L309.37 63.84 L314.7 64.8 L320.04 65.81 L325.37 66.86 L330.7 67.95 L336.04 69.09 L341.37 70.28 L346.7 71.51 L352.04 72.79 L357.37 74.12 L362.7 75.49 L368.04 76.9 L373.37 78.37 L378.71 79.87 L384.04 81.42 L389.37 83.02 L394.71 84.66 L400.04 86.35 L405.37 88.08 L410.71 89.86 L416.04 91.68 L421.37 93.54 L426.71 95.45 L432.04 97.4 L437.37 99.4 L442.71 101.44 L448.04 103.53 L453.37 105.65 L458.71 107.83 L464.04 110.04 L469.38 112.3 L474.71 114.6 L480.04 116.94 L485.38 119.33 L490.71 121.76 L496.04 124.23 L501.38 126.74 L506.71 129.3 L512.04 131.9 L517.38 134.53 L522.71 137.21 L528.04 139.94 L533.38 142.7 L538.71 145.5 L544.04 148.35 L549.38 151.23 L554.71 154.16 L560.04 157.12 L565.38 160.13 L570.71 163.17 L576.04 166.26 L581.38 169.38 L586.71 172.54 L592.05 175.74 L597.38 178.98 L602.71 182.26 L608.05 185.58 L613.38 188.94 L618.71 192.33 L624.05 195.76 L629.38 199.23 L634.71 202.73 L640.05 206.28 L645.38 209.86 L650.71 213.47 L656.05 217.12 L661.38 220.81 L666.71 224.54 L672.05 228.3 L677.38 232.09 L682.71 235.92 L688.05 239.78 L693.38 243.68 L698.72 247.62 L704.05 251.58 L709.38 255.59 L714.72 259.62 L720.05 263.69 L725.38 267.79 L730.72 271.92 L736.05 276.09 L741.38 280.29 L746.72 284.52 L752.05 288.78 L757.38 293.08 L762.72 297.41 L768.05 301.76 L773.38 306.15 L778.72 310.57 L784.05 315.02 L789.38 319.49 L794.72 324 L800.05 328.54 L805.39 333.11 L810.72 337.7 L816.05 342.32 L821.39 346.98 L826.72 351.66 L832.05 356.36 L837.39 361.1 L842.72 365.86 L848.05 370.65 L853.39 375.47 L858.72 380.31 L864.05 385.18 L869.39 390.08 L874.72 395 L880.05 399.94 L885.39 404.91 L890.72 409.91 L896.05 414.93 L901.39 419.97 L906.72 425.04 L912.06 430.13 L917.39 435.25 L922.72 440.38 L928.06 445.55 L933.39 450.73 L938.72 455.93 L944.06 461.16 L949.39 466.41 L954.72 471.68 L960.06 476.98 L965.39 482.29 L970.72 487.62 L976.06 492.98 L981.39 498.35 L986.72 503.74 L992.06 509.16 L997.39 514.59 L1002.72 520.04 L1008.06 525.51 L1013.39 531 L1018.73 536.51 L1024.06 542.04 L1029.39 547.58 L1034.73 553.14 L1040.06 558.72 L1045.39 564.32 L1050.73 569.93 L1056.06 575.56 L1061.39 581.2 L1066.73 586.86 L1072.06 592.54 L1077.39 598.23 L1082.73 603.94 L1088.06 609.66 L1093.39 615.4 L1098.73 621.15 L1104.06 626.92 L1109.39 632.7 L1114.73 638.49 L1120.06 644.3 L1125.4 650.12 L1130.73 655.96 L1136.06 661.81 L1141.4 667.67 L1146.73 673.54 L1152.06 679.43 L1157.4 685.33 L1162.73 691.24 L1168.06 697.16 L1173.4 703.09 L1178.73 709.04 L1184.06 714.99" stroke="#000000" stroke-width="8.2" stroke-dasharray="4.5 16.1 16.2 16.0" stroke-linecap="butt" stroke-linejoin="round"/>
<path d="M202.7 54.48 L208.03 54.5 L213.37 54.58 L218.7 54.69 L224.03 54.86 L229.37 55.07 L234.7 55.33 L240.03 55.64 L245.37 56 L250.7 56.4 L256.03 56.85 L261.37 57.35 L266.7 57.89 L272.04 58.49 L277.37 59.12 L282.7 59.81 L288.04 60.54 L293.37 61.32 L298.7 62.15 L304.04 63.02 L309.37 63.95 L314.7 64.91 L320.04 65.93 L325.37 66.99 L330.7 68.1 L336.04 69.25 L341.37 70.45 L346.7 71.7 L352.04 72.99 L357.37 74.33 L362.7 75.71 L368.04 77.14 L373.37 78.62 L378.71 80.14 L384.04 81.71 L389.37 83.32 L394.71 84.98 L400.04 86.68 L405.37 88.43 L410.71 90.23 L416.04 92.06 L421.37 93.95 L426.71 95.87 L432.04 97.85 L437.37 99.86 L442.71 101.92 L448.04 104.03 L453.37 106.18 L458.71 108.37 L464.04 110.6 L469.38 112.88 L474.71 115.21 L480.04 117.57 L485.38 119.98 L490.71 122.43 L496.04 124.92 L501.38 127.46 L506.71 130.04 L512.04 132.66 L517.38 135.32 L522.71 138.02 L528.04 140.77 L533.38 143.55 L538.71 146.38 L544.04 149.25 L549.38 152.15 L554.71 155.1 L560.04 158.09 L565.38 161.12 L570.71 164.19 L576.04 167.3 L581.38 170.44 L586.71 173.63 L592.05 176.86 L597.38 180.12 L602.71 183.42 L608.05 186.76 L613.38 190.14 L618.71 193.56 L624.05 197.01 L629.38 200.5 L634.71 204.03 L640.05 207.6 L645.38 211.2 L650.71 214.84 L656.05 218.51 L661.38 222.22 L666.71 225.97 L672.05 229.75 L677.38 233.56 L682.71 237.41 L688.05 241.3 L693.38 245.22 L698.72 249.17 L704.05 253.15 L709.38 257.17 L714.72 261.23 L720.05 265.31 L725.38 269.43 L730.72 273.58 L736.05 277.77 L741.38 281.98 L746.72 286.23 L752.05 290.5 L757.38 294.81 L762.72 299.15 L768.05 303.52 L773.38 307.92 L778.72 312.35 L784.05 316.81 L789.38 321.29 L794.72 325.81 L800.05 330.36 L805.39 334.93 L810.72 339.53 L816.05 344.16 L821.39 348.82 L826.72 353.5 L832.05 358.21 L837.39 362.95 L842.72 367.71 L848.05 372.5 L853.39 377.32 L858.72 382.16 L864.05 387.02 L869.39 391.91 L874.72 396.83 L880.05 401.77 L885.39 406.73 L890.72 411.71 L896.05 416.72 L901.39 421.76 L906.72 426.81 L912.06 431.89 L917.39 436.99 L922.72 442.11 L928.06 447.25 L933.39 452.41 L938.72 457.6 L944.06 462.8 L949.39 468.03 L954.72 473.27 L960.06 478.54 L965.39 483.82 L970.72 489.12 L976.06 494.44 L981.39 499.78 L986.72 505.14 L992.06 510.52 L997.39 515.91 L1002.72 521.32 L1008.06 526.75 L1013.39 532.19 L1018.73 537.65 L1024.06 543.13 L1029.39 548.62 L1034.73 554.13 L1040.06 559.65 L1045.39 565.19 L1050.73 570.74 L1056.06 576.31 L1061.39 581.89 L1066.73 587.48 L1072.06 593.09 L1077.39 598.71 L1082.73 604.34 L1088.06 609.99 L1093.39 615.65 L1098.73 621.32 L1104.06 627 L1109.39 632.7 L1114.73 638.4 L1120.06 644.12 L1125.4 649.85 L1130.73 655.59 L1136.06 661.34 L1141.4 667.1 L1146.73 672.87 L1152.06 678.65 L1157.4 684.43 L1162.73 690.23 L1168.06 696.04 L1173.4 701.85 L1178.73 707.68 L1184.06 713.51" stroke="#00ffff" stroke-width="8.2" stroke-dasharray="4.5 16.1 16.2 16.0" stroke-linecap="butt" stroke-linejoin="round"/>
<path d="M202.7 54.48 L208.03 54.5 L213.37 54.58 L218.7 54.7 L224.03 54.87 L229.37 55.08 L234.7 55.35 L240.03 55.66 L245.37 56.02 L250.7 56.43 L256.03 56.88 L261.37 57.39 L266.7 57.94 L272.04 58.54 L277.37 59.19 L282.7 59.88 L288.04 60.62 L293.37 61.41 L298.7 62.25 L304.04 63.14 L309.37 64.07 L314.7 65.05 L320.04 66.08 L325.37 67.15 L330.7 68.27 L336.04 69.44 L341.37 70.66 L346.7 71.92 L352.04 73.23 L357.37 74.58 L362.7 75.99 L368.04 77.44 L373.37 78.93 L378.71 80.47 L384.04 82.06 L389.37 83.69 L394.71 85.37 L400.04 87.09 L405.37 88.86 L410.71 90.68 L416.04 92.54 L421.37 94.45 L426.71 96.4 L432.04 98.39 L437.37 100.43 L442.71 102.52 L448.04 104.65 L453.37 106.82 L458.71 109.04 L464.04 111.3 L469.38 113.6 L474.71 115.95 L480.04 118.35 L485.38 120.78 L490.71 123.26 L496.04 125.78 L501.38 128.34 L506.71 130.95 L512.04 133.6 L517.38 136.28 L522.71 139.02 L528.04 141.79 L533.38 144.6 L538.71 147.46 L544.04 150.36 L549.38 153.29 L554.71 156.27 L560.04 159.29 L565.38 162.35 L570.71 165.44 L576.04 168.58 L581.38 171.76 L586.71 174.97 L592.05 178.23 L597.38 181.52 L602.71 184.85 L608.05 188.22 L613.38 191.63 L618.71 195.08 L624.05 198.56 L629.38 202.08 L634.71 205.63 L640.05 209.23 L645.38 212.86 L650.71 216.52 L656.05 220.22 L661.38 223.96 L666.71 227.73 L672.05 231.54 L677.38 235.38 L682.71 239.25 L688.05 243.16 L693.38 247.11 L698.72 251.08 L704.05 255.09 L709.38 259.13 L714.72 263.21 L720.05 267.32 L725.38 271.46 L730.72 275.63 L736.05 279.83 L741.38 284.06 L746.72 288.33 L752.05 292.62 L757.38 296.95 L762.72 301.3 L768.05 305.69 L773.38 310.1 L778.72 314.54 L784.05 319.02 L789.38 323.52 L794.72 328.04 L800.05 332.6 L805.39 337.18 L810.72 341.79 L816.05 346.43 L821.39 351.09 L826.72 355.78 L832.05 360.49 L837.39 365.23 L842.72 369.99 L848.05 374.78 L853.39 379.6 L858.72 384.43 L864.05 389.29 L869.39 394.18 L874.72 399.09 L880.05 404.02 L885.39 408.97 L890.72 413.94 L896.05 418.94 L901.39 423.96 L906.72 429 L912.06 434.05 L917.39 439.13 L922.72 444.23 L928.06 449.35 L933.39 454.49 L938.72 459.65 L944.06 464.82 L949.39 470.02 L954.72 475.23 L960.06 480.46 L965.39 485.71 L970.72 490.97 L976.06 496.25 L981.39 501.55 L986.72 506.86 L992.06 512.19 L997.39 517.53 L1002.72 522.89 L1008.06 528.27 L1013.39 533.65 L1018.73 539.05 L1024.06 544.47 L1029.39 549.9 L1034.73 555.34 L1040.06 560.79 L1045.39 566.26 L1050.73 571.74 L1056.06 577.23 L1061.39 582.73 L1066.73 588.24 L1072.06 593.76 L1077.39 599.3 L1082.73 604.84 L1088.06 610.39 L1093.39 615.96 L1098.73 621.53 L1104.06 627.11 L1109.39 632.7 L1114.73 638.3 L1120.06 643.9 L1125.4 649.51 L1130.73 655.13 L1136.06 660.76 L1141.4 666.4 L1146.73 672.04 L1152.06 677.68 L1157.4 683.33 L1162.73 688.99 L1168.06 694.66 L1173.4 700.32 L1178.73 706 L1184.06 711.67" stroke="#800080" stroke-width="8.2" stroke-dasharray="4.5 16.1 16.2 16.0" stroke-linecap="butt" stroke-linejoin="round"/>
<path d="M202.7 54.48 L208.03 54.51 L213.37 54.58 L218.7 54.7 L224.03 54.87 L229.37 55.09 L234.7 55.36 L240.03 55.68 L245.37 56.04 L250.7 56.46 L256.03 56.92 L261.37 57.43 L266.7 57.99 L272.04 58.6 L277.37 59.26 L282.7 59.96 L288.04 60.72 L293.37 61.52 L298.7 62.37 L304.04 63.27 L309.37 64.22 L314.7 65.21 L320.04 66.25 L325.37 67.34 L330.7 68.48 L336.04 69.67 L341.37 70.9 L346.7 72.18 L352.04 73.51 L357.37 74.89 L362.7 76.31 L368.04 77.78 L373.37 79.3 L378.71 80.86 L384.04 82.47 L389.37 84.13 L394.71 85.83 L400.04 87.58 L405.37 89.37 L410.71 91.22 L416.04 93.1 L421.37 95.04 L426.71 97.01 L432.04 99.04 L437.37 101.1 L442.71 103.22 L448.04 105.38 L453.37 107.58 L458.71 109.83 L464.04 112.12 L469.38 114.45 L474.71 116.83 L480.04 119.26 L485.38 121.72 L490.71 124.23 L496.04 126.78 L501.38 129.38 L506.71 132.02 L512.04 134.7 L517.38 137.42 L522.71 140.19 L528.04 142.99 L533.38 145.84 L538.71 148.73 L544.04 151.66 L549.38 154.63 L554.71 157.65 L560.04 160.7 L565.38 163.79 L570.71 166.92 L576.04 170.09 L581.38 173.31 L586.71 176.56 L592.05 179.84 L597.38 183.17 L602.71 186.54 L608.05 189.94 L613.38 193.38 L618.71 196.86 L624.05 200.38 L629.38 203.93 L634.71 207.52 L640.05 211.14 L645.38 214.81 L650.71 218.5 L656.05 222.24 L661.38 226 L666.71 229.81 L672.05 233.64 L677.38 237.51 L682.71 241.42 L688.05 245.36 L693.38 249.33 L698.72 253.33 L704.05 257.37 L709.38 261.44 L714.72 265.54 L720.05 269.67 L725.38 273.84 L730.72 278.03 L736.05 282.26 L741.38 286.52 L746.72 290.8 L752.05 295.12 L757.38 299.46 L762.72 303.84 L768.05 308.24 L773.38 312.67 L778.72 317.13 L784.05 321.62 L789.38 326.13 L794.72 330.67 L800.05 335.24 L805.39 339.83 L810.72 344.45 L816.05 349.09 L821.39 353.76 L826.72 358.45 L832.05 363.17 L837.39 367.91 L842.72 372.68 L848.05 377.47 L853.39 382.28 L858.72 387.11 L864.05 391.97 L869.39 396.85 L874.72 401.74 L880.05 406.66 L885.39 411.61 L890.72 416.57 L896.05 421.55 L901.39 426.55 L906.72 431.57 L912.06 436.6 L917.39 441.66 L922.72 446.73 L928.06 451.83 L933.39 456.94 L938.72 462.06 L944.06 467.2 L949.39 472.36 L954.72 477.54 L960.06 482.72 L965.39 487.93 L970.72 493.15 L976.06 498.38 L981.39 503.63 L986.72 508.89 L992.06 514.16 L997.39 519.45 L1002.72 524.74 L1008.06 530.05 L1013.39 535.38 L1018.73 540.71 L1024.06 546.05 L1029.39 551.4 L1034.73 556.77 L1040.06 562.14 L1045.39 567.52 L1050.73 572.91 L1056.06 578.31 L1061.39 583.72 L1066.73 589.14 L1072.06 594.56 L1077.39 599.99 L1082.73 605.43 L1088.06 610.87 L1093.39 616.32 L1098.73 621.77 L1104.06 627.23 L1109.39 632.7 L1114.73 638.17 L1120.06 643.64 L1125.4 649.12 L1130.73 654.6 L1136.06 660.08 L1141.4 665.57 L1146.73 671.06 L1152.06 676.55 L1157.4 682.04 L1162.73 687.53 L1168.06 693.03 L1173.4 698.52 L1178.73 704.02 L1184.06 709.52" stroke="#ff8000" stroke-width="8.2" stroke-dasharray="4.5 16.1 16.2 16.0" stroke-linecap="butt" stroke-linejoin="round"/>
<path d="M202.7 54.48 L208.03 54.51 L213.37 54.58 L218.7 54.71 L224.03 54.89 L229.37 55.12 L234.7 55.39 L240.03 55.72 L245.37 56.1 L250.7 56.54 L256.03 57.02 L261.37 57.55 L266.7 58.13 L272.04 58.77 L277.37 59.45 L282.7 60.18 L288.04 60.97 L293.37 61.8 L298.7 62.69 L304.04 63.62 L309.37 64.6 L314.7 65.64 L320.04 66.72 L325.37 67.85 L330.7 69.04 L336.04 70.27 L341.37 71.55 L346.7 72.88 L352.04 74.26 L357.37 75.69 L362.7 77.17 L368.04 78.69 L373.37 80.27 L378.71 81.89 L384.04 83.56 L389.37 85.28 L394.71 87.05 L400.04 88.86 L405.37 90.72 L410.71 92.63 L416.04 94.59 L421.37 96.59 L426.71 98.64 L432.04 100.74 L437.37 102.88 L442.71 105.07 L448.04 107.3 L453.37 109.58 L458.71 111.91 L464.04 114.28 L469.38 116.7 L474.71 119.16 L480.04 121.66 L485.38 124.21 L490.71 126.81 L496.04 129.44 L501.38 132.13 L506.71 134.85 L512.04 137.62 L517.38 140.43 L522.71 143.28 L528.04 146.18 L533.38 149.11 L538.71 152.09 L544.04 155.11 L549.38 158.18 L554.71 161.28 L560.04 164.42 L565.38 167.6 L570.71 170.83 L576.04 174.09 L581.38 177.39 L586.71 180.73 L592.05 184.11 L597.38 187.53 L602.71 190.98 L608.05 194.48 L613.38 198.01 L618.71 201.58 L624.05 205.18 L629.38 208.82 L634.71 212.5 L640.05 216.21 L645.38 219.96 L650.71 223.74 L656.05 227.56 L661.38 231.41 L666.71 235.29 L672.05 239.21 L677.38 243.16 L682.71 247.14 L688.05 251.16 L693.38 255.21 L698.72 259.28 L704.05 263.39 L709.38 267.53 L714.72 271.7 L720.05 275.91 L725.38 280.14 L730.72 284.39 L736.05 288.68 L741.38 293 L746.72 297.34 L752.05 301.71 L757.38 306.11 L762.72 310.53 L768.05 314.98 L773.38 319.46 L778.72 323.96 L784.05 328.48 L789.38 333.03 L794.72 337.61 L800.05 342.21 L805.39 346.83 L810.72 351.47 L816.05 356.13 L821.39 360.82 L826.72 365.53 L832.05 370.26 L837.39 375 L842.72 379.77 L848.05 384.56 L853.39 389.37 L858.72 394.19 L864.05 399.03 L869.39 403.89 L874.72 408.77 L880.05 413.66 L885.39 418.57 L890.72 423.5 L896.05 428.44 L901.39 433.39 L906.72 438.36 L912.06 443.34 L917.39 448.34 L922.72 453.34 L928.06 458.36 L933.39 463.39 L938.72 468.44 L944.06 473.49 L949.39 478.55 L954.72 483.63 L960.06 488.71 L965.39 493.8 L970.72 498.9 L976.06 504.01 L981.39 509.12 L986.72 514.24 L992.06 519.37 L997.39 524.5 L1002.72 529.64 L1008.06 534.78 L1013.39 539.92 L1018.73 545.07 L1024.06 550.23 L1029.39 555.38 L1034.73 560.54 L1040.06 565.7 L1045.39 570.86 L1050.73 576.02 L1056.06 581.18 L1061.39 586.35 L1066.73 591.51 L1072.06 596.66 L1077.39 601.82 L1082.73 606.98 L1088.06 612.13 L1093.39 617.28 L1098.73 622.42 L1104.06 627.56 L1109.39 632.7 L1114.73 637.83 L1120.06 642.95 L1125.4 648.07 L1130.73 653.18 L1136.06 658.29 L1141.4 663.38 L1146.73 668.47 L1152.06 673.55 L1157.4 678.62 L1162.73 683.68 L1168.06 688.73 L1173.4 693.77 L1178.73 698.8 L1184.06 703.82" stroke="#0000ff" stroke-width="8.2" stroke-dasharray="4.5 16.1 16.2 16.0" stroke-linecap="butt" stroke-linejoin="round"/>
</g>
<g stroke="#666666" fill="none">
<rect x="182.3" y="5.8" width="1020.7" height="977.6" stroke-width="1.9"/>
<path d="M202.7 983.4v-15.5 M202.7 5.8v15.5 M256.03 983.4v-9.3 M256.03 5.8v9.3 M309.37 983.4v-9.3 M309.37 5.8v9.3 M362.7 983.4v-9.3 M362.7 5.8v9.3 M416.04 983.4v-15.5 M416.04 5.8v15.5 M469.38 983.4v-9.3 M469.38 5.8v9.3 M522.71 983.4v-9.3 M522.71 5.8v9.3 M576.05 983.4v-9.3 M576.05 5.8v9.3 M629.38 983.4v-15.5 M629.38 5.8v15.5 M682.71 983.4v-9.3 M682.71 5.8v9.3 M736.05 983.4v-9.3 M736.05 5.8v9.3 M789.38 983.4v-9.3 M789.38 5.8v9.3 M842.72 983.4v-15.5 M842.72 5.8v15.5 M896.06 983.4v-9.3 M896.06 5.8v9.3 M949.39 983.4v-9.3 M949.39 5.8v9.3 M1002.72 983.4v-9.3 M1002.72 5.8v9.3 M1056.06 983.4v-15.5 M1056.06 5.8v15.5 M1109.39 983.4v-9.3 M1109.39 5.8v9.3 M1162.73 983.4v-9.3 M1162.73 5.8v9.3 M182.3 971.78h6 M1203 971.78h-6 M182.3 935.28h6 M1203 935.28h-6 M182.3 898.79h6 M1203 898.79h-6 M182.3 862.3h6 M1203 862.3h-6 M182.3 825.8h10 M1203 825.8h-10 M182.3 789.31h6 M1203 789.31h-6 M182.3 752.81h6 M1203 752.81h-6 M182.3 716.32h6 M1203 716.32h-6 M182.3 679.82h6 M1203 679.82h-6 M182.3 643.33h10 M1203 643.33h-10 M182.3 606.83h6 M1203 606.83h-6 M182.3 570.34h6 M1203 570.34h-6 M182.3 533.84h6 M1203 533.84h-6 M182.3 497.35h6 M1203 497.35h-6 M182.3 460.85h10 M1203 460.85h-10 M182.3 424.36h6 M1203 424.36h-6 M182.3 387.86h6 M1203 387.86h-6 M182.3 351.37h6 M1203 351.37h-6 M182.3 314.87h6 M1203 314.87h-6 M182.3 278.38h10 M1203 278.38h-10 M182.3 241.88h6 M1203 241.88h-6 M182.3 205.38h6 M1203 205.38h-6 M182.3 168.89h6 M1203 168.89h-6 M182.3 132.4h6 M1203 132.4h-6 M182.3 95.9h10 M1203 95.9h-10 M182.3 59.41h6 M1203 59.41h-6 M182.3 22.91h6 M1203 22.91h-6" stroke-width="1.5"/>
</g>
<g transform="scale(0.63,1)" font-family="'Liberation Sans', sans-serif" font-weight="bold" fill="#000" stroke="#000" stroke-width="1" stroke-linejoin="round" font-size="61.5">
<g text-anchor="middle">
<text x="321.75" y="1053.2">0</text>
<text x="660.38" y="1053.2">2</text>
<text x="999.02" y="1053.2">4</text>
<text x="1337.65" y="1053.2">6</text>
<text x="1676.29" y="1053.2">8</text>
<text x="1099.44" y="1148.3">r</text>
</g>
<g text-anchor="end">
<text x="273.02" y="846.7">300</text>
<text x="273.02" y="664.23">350</text>
<text x="273.02" y="481.75">400</text>
<text x="273.02" y="299.27">450</text>
<text x="273.02" y="116.8">500</text>
</g>
</g>
<g transform="scale(0.645,1)" font-family="'Liberation Sans', sans-serif" font-weight="bold" fill="#000">
<text transform="translate(119.69,495.2)  rotate(-90)" font-size="61.5" stroke="#000" stroke-width="0.8" text-anchor="middle" textLength="797" lengthAdjust="spacingAndGlyphs">Energy Conditions MeV/fm<tspan font-size="48" dy="-27">3</tspan></text>
</g>
<g fill="none">
<path d="M1452.3 571.48 L1457.63 571.49 L1462.97 571.51 L1468.31 571.53 L1473.64 571.57 L1478.97 571.62 L1484.31 571.69 L1489.64 571.76 L1494.98 571.85 L1500.32 571.94 L1505.65 572.05 L1510.98 572.17 L1516.32 572.3 L1521.65 572.44 L1526.99 572.6 L1532.33 572.76 L1537.66 572.94 L1542.99 573.13 L1548.33 573.33 L1553.66 573.54 L1559 573.76 L1564.34 574 L1569.67 574.25 L1575 574.51 L1580.34 574.78 L1585.67 575.06 L1591.01 575.35 L1596.35 575.66 L1601.68 575.98 L1607.01 576.31 L1612.35 576.65 L1617.68 577 L1623.02 577.37 L1628.36 577.75 L1633.69 578.14 L1639.02 578.54 L1644.36 578.96 L1649.69 579.38 L1655.03 579.82 L1660.37 580.28 L1665.7 580.74 L1671.03 581.22 L1676.37 581.71 L1681.7 582.22 L1687.04 582.73 L1692.38 583.26 L1697.71 583.8 L1703.04 584.36 L1708.38 584.93 L1713.71 585.51 L1719.05 586.11 L1724.38 586.72 L1729.72 587.34 L1735.05 587.97 L1740.39 588.62 L1745.72 589.29 L1751.06 589.96 L1756.39 590.65 L1761.73 591.36 L1767.07 592.08 L1772.4 592.81 L1777.73 593.56 L1783.07 594.32 L1788.4 595.1 L1793.74 595.89 L1799.07 596.7 L1804.41 597.52 L1809.74 598.35 L1815.08 599.2 L1820.41 600.07 L1825.75 600.95 L1831.09 601.84 L1836.42 602.75 L1841.75 603.68 L1847.09 604.62 L1852.42 605.58 L1857.76 606.56 L1863.09 607.55 L1868.43 608.55 L1873.76 609.58 L1879.1 610.61 L1884.43 611.67 L1889.77 612.74 L1895.11 613.83 L1900.44 614.93 L1905.78 616.06 L1911.11 617.2 L1916.44 618.35 L1921.78 619.53 L1927.11 620.72 L1932.45 621.92 L1937.78 623.15 L1943.12 624.4 L1948.45 625.66 L1953.79 626.94 L1959.12 628.24 L1964.46 629.55 L1969.8 630.89 L1975.13 632.24 L1980.46 633.62 L1985.8 635.01 L1991.13 636.42 L1996.47 637.85 L2001.8 639.3 L2007.14 640.77 L2012.47 642.25 L2017.81 643.76 L2023.14 645.29 L2028.48 646.84 L2033.82 648.41 L2039.15 650 L2044.48 651.61 L2049.82 653.24 L2055.15 654.89 L2060.49 656.56 L2065.82 658.25 L2071.16 659.96 L2076.49 661.7 L2081.83 663.46 L2087.16 665.24 L2092.5 667.04 L2097.84 668.86 L2103.17 670.7 L2108.51 672.57 L2113.84 674.46 L2119.17 676.37 L2124.51 678.31 L2129.84 680.27 L2135.18 682.25 L2140.51 684.25 L2145.85 686.28 L2151.18 688.33 L2156.52 690.41 L2161.86 692.51 L2167.19 694.63 L2172.52 696.78 L2177.86 698.95 L2183.19 701.14 L2188.53 703.37 L2193.86 705.61 L2199.2 707.88 L2204.53 710.18 L2209.87 712.5 L2215.2 714.85 L2220.54 717.22 L2225.88 719.62 L2231.21 722.04 L2236.55 724.49 L2241.88 726.97 L2247.22 729.47 L2252.55 732 L2257.88 734.56 L2263.22 737.14 L2268.55 739.76 L2273.89 742.39 L2279.22 745.06 L2284.56 747.75 L2289.89 750.47 L2295.23 753.22 L2300.57 756 L2305.9 758.81 L2311.23 761.64 L2316.57 764.5 L2321.9 767.39 L2327.24 770.31 L2332.57 773.26 L2337.91 776.24 L2343.24 779.25 L2348.58 782.28 L2353.91 785.35 L2359.25 788.44 L2364.59 791.57 L2369.92 794.73 L2375.26 797.91 L2380.59 801.13 L2385.93 804.38 L2391.26 807.65 L2396.59 810.96 L2401.93 814.3 L2407.26 817.67 L2412.6 821.08 L2417.93 824.51 L2423.27 827.97 L2428.6 831.47 L2433.94 835" stroke="#000000" stroke-width="6.6" stroke-linecap="square" stroke-linejoin="round"/>
<path d="M1452.3 535.27 L1457.63 535.28 L1462.97 535.3 L1468.31 535.33 L1473.64 535.38 L1478.97 535.45 L1484.31 535.52 L1489.64 535.61 L1494.98 535.72 L1500.32 535.84 L1505.65 535.97 L1510.98 536.12 L1516.32 536.28 L1521.65 536.45 L1526.99 536.64 L1532.33 536.85 L1537.66 537.07 L1542.99 537.3 L1548.33 537.54 L1553.66 537.8 L1559 538.08 L1564.34 538.37 L1569.67 538.67 L1575 538.99 L1580.34 539.33 L1585.67 539.67 L1591.01 540.04 L1596.35 540.41 L1601.68 540.81 L1607.01 541.21 L1612.35 541.63 L1617.68 542.07 L1623.02 542.52 L1628.36 542.99 L1633.69 543.47 L1639.02 543.97 L1644.36 544.48 L1649.69 545.01 L1655.03 545.56 L1660.37 546.12 L1665.7 546.69 L1671.03 547.28 L1676.37 547.89 L1681.7 548.51 L1687.04 549.15 L1692.38 549.81 L1697.71 550.48 L1703.04 551.16 L1708.38 551.87 L1713.71 552.59 L1719.05 553.33 L1724.38 554.08 L1729.72 554.85 L1735.05 555.64 L1740.39 556.44 L1745.72 557.27 L1751.06 558.11 L1756.39 558.96 L1761.73 559.84 L1767.07 560.73 L1772.4 561.64 L1777.73 562.57 L1783.07 563.51 L1788.4 564.47 L1793.74 565.46 L1799.07 566.46 L1804.41 567.48 L1809.74 568.51 L1815.08 569.57 L1820.41 570.64 L1825.75 571.74 L1831.09 572.85 L1836.42 573.98 L1841.75 575.13 L1847.09 576.31 L1852.42 577.5 L1857.76 578.71 L1863.09 579.94 L1868.43 581.19 L1873.76 582.46 L1879.1 583.75 L1884.43 585.06 L1889.77 586.39 L1895.11 587.75 L1900.44 589.12 L1905.78 590.51 L1911.11 591.93 L1916.44 593.37 L1921.78 594.83 L1927.11 596.3 L1932.45 597.81 L1937.78 599.33 L1943.12 600.88 L1948.45 602.44 L1953.79 604.03 L1959.12 605.64 L1964.46 607.28 L1969.8 608.94 L1975.13 610.62 L1980.46 612.32 L1985.8 614.04 L1991.13 615.79 L1996.47 617.57 L2001.8 619.36 L2007.14 621.18 L2012.47 623.02 L2017.81 624.89 L2023.14 626.78 L2028.48 628.69 L2033.82 630.63 L2039.15 632.6 L2044.48 634.58 L2049.82 636.6 L2055.15 638.63 L2060.49 640.69 L2065.82 642.78 L2071.16 644.89 L2076.49 647.03 L2081.83 649.19 L2087.16 651.38 L2092.5 653.59 L2097.84 655.83 L2103.17 658.09 L2108.51 660.38 L2113.84 662.7 L2119.17 665.04 L2124.51 667.41 L2129.84 669.8 L2135.18 672.22 L2140.51 674.67 L2145.85 677.14 L2151.18 679.64 L2156.52 682.17 L2161.86 684.72 L2167.19 687.3 L2172.52 689.9 L2177.86 692.54 L2183.19 695.2 L2188.53 697.88 L2193.86 700.6 L2199.2 703.34 L2204.53 706.11 L2209.87 708.9 L2215.2 711.72 L2220.54 714.57 L2225.88 717.45 L2231.21 720.35 L2236.55 723.29 L2241.88 726.24 L2247.22 729.23 L2252.55 732.24 L2257.88 735.29 L2263.22 738.35 L2268.55 741.45 L2273.89 744.57 L2279.22 747.72 L2284.56 750.9 L2289.89 754.11 L2295.23 757.34 L2300.57 760.6 L2305.9 763.89 L2311.23 767.2 L2316.57 770.54 L2321.9 773.91 L2327.24 777.3 L2332.57 780.73 L2337.91 784.18 L2343.24 787.65 L2348.58 791.16 L2353.91 794.68 L2359.25 798.24 L2364.59 801.82 L2369.92 805.43 L2375.26 809.07 L2380.59 812.73 L2385.93 816.41 L2391.26 820.13 L2396.59 823.87 L2401.93 827.63 L2407.26 831.42 L2412.6 835.23 L2417.93 839.07 L2423.27 842.94 L2428.6 846.83 L2433.94 850.74" stroke="#00ffff" stroke-width="6.6" stroke-linecap="square" stroke-linejoin="round"/>
<path d="M1452.3 492.69 L1457.63 492.7 L1462.97 492.73 L1468.31 492.77 L1473.64 492.83 L1478.97 492.91 L1484.31 493 L1489.64 493.11 L1494.98 493.24 L1500.32 493.39 L1505.65 493.55 L1510.98 493.73 L1516.32 493.93 L1521.65 494.14 L1526.99 494.37 L1532.33 494.62 L1537.66 494.89 L1542.99 495.17 L1548.33 495.48 L1553.66 495.8 L1559 496.13 L1564.34 496.49 L1569.67 496.86 L1575 497.25 L1580.34 497.66 L1585.67 498.09 L1591.01 498.53 L1596.35 498.99 L1601.68 499.47 L1607.01 499.97 L1612.35 500.49 L1617.68 501.03 L1623.02 501.58 L1628.36 502.15 L1633.69 502.75 L1639.02 503.36 L1644.36 503.99 L1649.69 504.64 L1655.03 505.3 L1660.37 505.99 L1665.7 506.7 L1671.03 507.42 L1676.37 508.17 L1681.7 508.93 L1687.04 509.72 L1692.38 510.53 L1697.71 511.35 L1703.04 512.2 L1708.38 513.06 L1713.71 513.95 L1719.05 514.86 L1724.38 515.78 L1729.72 516.73 L1735.05 517.7 L1740.39 518.69 L1745.72 519.71 L1751.06 520.74 L1756.39 521.79 L1761.73 522.87 L1767.07 523.97 L1772.4 525.09 L1777.73 526.23 L1783.07 527.4 L1788.4 528.59 L1793.74 529.8 L1799.07 531.03 L1804.41 532.28 L1809.74 533.56 L1815.08 534.87 L1820.41 536.19 L1825.75 537.54 L1831.09 538.91 L1836.42 540.31 L1841.75 541.73 L1847.09 543.17 L1852.42 544.64 L1857.76 546.13 L1863.09 547.65 L1868.43 549.19 L1873.76 550.76 L1879.1 552.35 L1884.43 553.97 L1889.77 555.61 L1895.11 557.28 L1900.44 558.98 L1905.78 560.69 L1911.11 562.44 L1916.44 564.21 L1921.78 566.01 L1927.11 567.83 L1932.45 569.68 L1937.78 571.56 L1943.12 573.46 L1948.45 575.39 L1953.79 577.35 L1959.12 579.33 L1964.46 581.35 L1969.8 583.39 L1975.13 585.45 L1980.46 587.55 L1985.8 589.67 L1991.13 591.82 L1996.47 594 L2001.8 596.2 L2007.14 598.43 L2012.47 600.7 L2017.81 602.99 L2023.14 605.31 L2028.48 607.65 L2033.82 610.03 L2039.15 612.43 L2044.48 614.87 L2049.82 617.33 L2055.15 619.82 L2060.49 622.34 L2065.82 624.89 L2071.16 627.47 L2076.49 630.08 L2081.83 632.71 L2087.16 635.38 L2092.5 638.08 L2097.84 640.8 L2103.17 643.55 L2108.51 646.34 L2113.84 649.15 L2119.17 651.99 L2124.51 654.86 L2129.84 657.76 L2135.18 660.69 L2140.51 663.65 L2145.85 666.64 L2151.18 669.66 L2156.52 672.71 L2161.86 675.78 L2167.19 678.89 L2172.52 682.02 L2177.86 685.19 L2183.19 688.38 L2188.53 691.6 L2193.86 694.85 L2199.2 698.13 L2204.53 701.43 L2209.87 704.77 L2215.2 708.13 L2220.54 711.52 L2225.88 714.94 L2231.21 718.39 L2236.55 721.86 L2241.88 725.36 L2247.22 728.89 L2252.55 732.45 L2257.88 736.03 L2263.22 739.64 L2268.55 743.28 L2273.89 746.94 L2279.22 750.63 L2284.56 754.34 L2289.89 758.08 L2295.23 761.84 L2300.57 765.63 L2305.9 769.44 L2311.23 773.28 L2316.57 777.14 L2321.9 781.02 L2327.24 784.93 L2332.57 788.86 L2337.91 792.81 L2343.24 796.78 L2348.58 800.78 L2353.91 804.79 L2359.25 808.83 L2364.59 812.88 L2369.92 816.96 L2375.26 821.05 L2380.59 825.17 L2385.93 829.3 L2391.26 833.45 L2396.59 837.61 L2401.93 841.79 L2407.26 845.99 L2412.6 850.2 L2417.93 854.43 L2423.27 858.67 L2428.6 862.92 L2433.94 867.19" stroke="#800080" stroke-width="6.6" stroke-linecap="square" stroke-linejoin="round"/>
<path d="M1452.3 443.13 L1457.63 443.14 L1462.97 443.17 L1468.31 443.23 L1473.64 443.3 L1478.97 443.4 L1484.31 443.52 L1489.64 443.66 L1494.98 443.82 L1500.32 444 L1505.65 444.2 L1510.98 444.43 L1516.32 444.68 L1521.65 444.95 L1526.99 445.24 L1532.33 445.55 L1537.66 445.89 L1542.99 446.24 L1548.33 446.62 L1553.66 447.02 L1559 447.45 L1564.34 447.89 L1569.67 448.36 L1575 448.85 L1580.34 449.36 L1585.67 449.89 L1591.01 450.45 L1596.35 451.03 L1601.68 451.63 L1607.01 452.26 L1612.35 452.91 L1617.68 453.58 L1623.02 454.27 L1628.36 454.99 L1633.69 455.73 L1639.02 456.49 L1644.36 457.28 L1649.69 458.09 L1655.03 458.92 L1660.37 459.78 L1665.7 460.67 L1671.03 461.57 L1676.37 462.5 L1681.7 463.46 L1687.04 464.44 L1692.38 465.44 L1697.71 466.47 L1703.04 467.52 L1708.38 468.6 L1713.71 469.71 L1719.05 470.84 L1724.38 471.99 L1729.72 473.17 L1735.05 474.38 L1740.39 475.61 L1745.72 476.87 L1751.06 478.15 L1756.39 479.46 L1761.73 480.8 L1767.07 482.16 L1772.4 483.55 L1777.73 484.97 L1783.07 486.41 L1788.4 487.88 L1793.74 489.38 L1799.07 490.91 L1804.41 492.46 L1809.74 494.04 L1815.08 495.65 L1820.41 497.29 L1825.75 498.95 L1831.09 500.65 L1836.42 502.37 L1841.75 504.12 L1847.09 505.9 L1852.42 507.71 L1857.76 509.55 L1863.09 511.41 L1868.43 513.31 L1873.76 515.24 L1879.1 517.19 L1884.43 519.18 L1889.77 521.2 L1895.11 523.24 L1900.44 525.32 L1905.78 527.43 L1911.11 529.56 L1916.44 531.73 L1921.78 533.93 L1927.11 536.16 L1932.45 538.42 L1937.78 540.71 L1943.12 543.04 L1948.45 545.39 L1953.79 547.78 L1959.12 550.2 L1964.46 552.65 L1969.8 555.13 L1975.13 557.64 L1980.46 560.19 L1985.8 562.76 L1991.13 565.37 L1996.47 568.02 L2001.8 570.69 L2007.14 573.4 L2012.47 576.14 L2017.81 578.91 L2023.14 581.71 L2028.48 584.55 L2033.82 587.42 L2039.15 590.32 L2044.48 593.26 L2049.82 596.22 L2055.15 599.22 L2060.49 602.26 L2065.82 605.32 L2071.16 608.42 L2076.49 611.55 L2081.83 614.71 L2087.16 617.91 L2092.5 621.14 L2097.84 624.4 L2103.17 627.7 L2108.51 631.02 L2113.84 634.38 L2119.17 637.77 L2124.51 641.2 L2129.84 644.65 L2135.18 648.14 L2140.51 651.66 L2145.85 655.21 L2151.18 658.8 L2156.52 662.41 L2161.86 666.06 L2167.19 669.73 L2172.52 673.44 L2177.86 677.18 L2183.19 680.95 L2188.53 684.75 L2193.86 688.58 L2199.2 692.44 L2204.53 696.33 L2209.87 700.25 L2215.2 704.2 L2220.54 708.18 L2225.88 712.18 L2231.21 716.22 L2236.55 720.28 L2241.88 724.37 L2247.22 728.48 L2252.55 732.63 L2257.88 736.8 L2263.22 740.99 L2268.55 745.22 L2273.89 749.46 L2279.22 753.74 L2284.56 758.03 L2289.89 762.35 L2295.23 766.7 L2300.57 771.06 L2305.9 775.45 L2311.23 779.86 L2316.57 784.29 L2321.9 788.75 L2327.24 793.22 L2332.57 797.71 L2337.91 802.22 L2343.24 806.75 L2348.58 811.3 L2353.91 815.86 L2359.25 820.44 L2364.59 825.04 L2369.92 829.65 L2375.26 834.27 L2380.59 838.91 L2385.93 843.56 L2391.26 848.22 L2396.59 852.89 L2401.93 857.57 L2407.26 862.26 L2412.6 866.95 L2417.93 871.66 L2423.27 876.37 L2428.6 881.08 L2433.94 885.8" stroke="#ff8000" stroke-width="6.6" stroke-linecap="square" stroke-linejoin="round"/>
<path d="M1452.3 302.96 L1457.63 302.98 L1462.97 303.03 L1468.31 303.12 L1473.64 303.24 L1478.97 303.41 L1484.31 303.6 L1489.64 303.83 L1494.98 304.1 L1500.32 304.41 L1505.65 304.75 L1510.98 305.12 L1516.32 305.53 L1521.65 305.98 L1526.99 306.46 L1532.33 306.98 L1537.66 307.54 L1542.99 308.13 L1548.33 308.76 L1553.66 309.42 L1559 310.12 L1564.34 310.86 L1569.67 311.63 L1575 312.44 L1580.34 313.29 L1585.67 314.17 L1591.01 315.09 L1596.35 316.04 L1601.68 317.03 L1607.01 318.06 L1612.35 319.13 L1617.68 320.23 L1623.02 321.37 L1628.36 322.55 L1633.69 323.76 L1639.02 325.01 L1644.36 326.3 L1649.69 327.63 L1655.03 328.99 L1660.37 330.39 L1665.7 331.83 L1671.03 333.3 L1676.37 334.82 L1681.7 336.37 L1687.04 337.96 L1692.38 339.59 L1697.71 341.26 L1703.04 342.96 L1708.38 344.7 L1713.71 346.49 L1719.05 348.31 L1724.38 350.17 L1729.72 352.06 L1735.05 354 L1740.39 355.98 L1745.72 357.99 L1751.06 360.05 L1756.39 362.14 L1761.73 364.27 L1767.07 366.45 L1772.4 368.66 L1777.73 370.91 L1783.07 373.2 L1788.4 375.53 L1793.74 377.91 L1799.07 380.32 L1804.41 382.77 L1809.74 385.26 L1815.08 387.79 L1820.41 390.37 L1825.75 392.98 L1831.09 395.64 L1836.42 398.33 L1841.75 401.07 L1847.09 403.84 L1852.42 406.66 L1857.76 409.52 L1863.09 412.42 L1868.43 415.36 L1873.76 418.34 L1879.1 421.37 L1884.43 424.43 L1889.77 427.54 L1895.11 430.69 L1900.44 433.88 L1905.78 437.11 L1911.11 440.38 L1916.44 443.69 L1921.78 447.05 L1927.11 450.45 L1932.45 453.89 L1937.78 457.37 L1943.12 460.89 L1948.45 464.45 L1953.79 468.06 L1959.12 471.71 L1964.46 475.4 L1969.8 479.13 L1975.13 482.9 L1980.46 486.72 L1985.8 490.57 L1991.13 494.47 L1996.47 498.41 L2001.8 502.39 L2007.14 506.41 L2012.47 510.48 L2017.81 514.58 L2023.14 518.72 L2028.48 522.91 L2033.82 527.14 L2039.15 531.41 L2044.48 535.72 L2049.82 540.07 L2055.15 544.45 L2060.49 548.88 L2065.82 553.35 L2071.16 557.86 L2076.49 562.41 L2081.83 567 L2087.16 571.63 L2092.5 576.3 L2097.84 581.01 L2103.17 585.75 L2108.51 590.53 L2113.84 595.36 L2119.17 600.21 L2124.51 605.11 L2129.84 610.05 L2135.18 615.02 L2140.51 620.02 L2145.85 625.07 L2151.18 630.15 L2156.52 635.26 L2161.86 640.41 L2167.19 645.6 L2172.52 650.82 L2177.86 656.07 L2183.19 661.36 L2188.53 666.68 L2193.86 672.03 L2199.2 677.41 L2204.53 682.83 L2209.87 688.28 L2215.2 693.75 L2220.54 699.26 L2225.88 704.8 L2231.21 710.36 L2236.55 715.96 L2241.88 721.58 L2247.22 727.23 L2252.55 732.9 L2257.88 738.6 L2263.22 744.33 L2268.55 750.07 L2273.89 755.85 L2279.22 761.64 L2284.56 767.46 L2289.89 773.3 L2295.23 779.15 L2300.57 785.03 L2305.9 790.93 L2311.23 796.84 L2316.57 802.77 L2321.9 808.71 L2327.24 814.67 L2332.57 820.65 L2337.91 826.63 L2343.24 832.63 L2348.58 838.64 L2353.91 844.66 L2359.25 850.68 L2364.59 856.72 L2369.92 862.76 L2375.26 868.8 L2380.59 874.85 L2385.93 880.9 L2391.26 886.96 L2396.59 893.01 L2401.93 899.06 L2407.26 905.11 L2412.6 911.15 L2417.93 917.19 L2423.27 923.22 L2428.6 929.25 L2433.94 935.26" stroke="#0000ff" stroke-width="6.6" stroke-linecap="square" stroke-linejoin="round"/>
<path d="M1452.3 188.23 L1457.63 188.25 L1462.97 188.3 L1468.31 188.4 L1473.64 188.54 L1478.97 188.72 L1484.31 188.94 L1489.64 189.2 L1494.98 189.5 L1500.32 189.83 L1505.65 190.21 L1510.98 190.63 L1516.32 191.08 L1521.65 191.58 L1526.99 192.12 L1532.33 192.69 L1537.66 193.31 L1542.99 193.96 L1548.33 194.66 L1553.66 195.39 L1559 196.16 L1564.34 196.98 L1569.67 197.83 L1575 198.72 L1580.34 199.66 L1585.67 200.63 L1591.01 201.64 L1596.35 202.69 L1601.68 203.78 L1607.01 204.91 L1612.35 206.08 L1617.68 207.29 L1623.02 208.54 L1628.36 209.83 L1633.69 211.16 L1639.02 212.53 L1644.36 213.93 L1649.69 215.38 L1655.03 216.87 L1660.37 218.39 L1665.7 219.96 L1671.03 221.56 L1676.37 223.2 L1681.7 224.89 L1687.04 226.61 L1692.38 228.37 L1697.71 230.17 L1703.04 232.01 L1708.38 233.89 L1713.71 235.81 L1719.05 237.77 L1724.38 239.77 L1729.72 241.81 L1735.05 243.88 L1740.39 246 L1745.72 248.15 L1751.06 250.35 L1756.39 252.58 L1761.73 254.85 L1767.07 257.16 L1772.4 259.51 L1777.73 261.9 L1783.07 264.33 L1788.4 266.79 L1793.74 269.3 L1799.07 271.84 L1804.41 274.43 L1809.74 277.05 L1815.08 279.71 L1820.41 282.41 L1825.75 285.15 L1831.09 287.93 L1836.42 290.74 L1841.75 293.6 L1847.09 296.49 L1852.42 299.42 L1857.76 302.39 L1863.09 305.4 L1868.43 308.45 L1873.76 311.53 L1879.1 314.66 L1884.43 317.82 L1889.77 321.02 L1895.11 324.26 L1900.44 327.53 L1905.78 330.85 L1911.11 334.2 L1916.44 337.59 L1921.78 341.02 L1927.11 344.49 L1932.45 347.99 L1937.78 351.53 L1943.12 355.11 L1948.45 358.73 L1953.79 362.38 L1959.12 366.08 L1964.46 369.81 L1969.8 373.57 L1975.13 377.38 L1980.46 381.22 L1985.8 385.1 L1991.13 389.02 L1996.47 392.97 L2001.8 396.96 L2007.14 400.99 L2012.47 405.05 L2017.81 409.15 L2023.14 413.29 L2028.48 417.46 L2033.82 421.67 L2039.15 425.92 L2044.48 430.2 L2049.82 434.52 L2055.15 438.88 L2060.49 443.27 L2065.82 447.7 L2071.16 452.16 L2076.49 456.66 L2081.83 461.19 L2087.16 465.76 L2092.5 470.37 L2097.84 475.01 L2103.17 479.69 L2108.51 484.4 L2113.84 489.14 L2119.17 493.93 L2124.51 498.74 L2129.84 503.59 L2135.18 508.48 L2140.51 513.4 L2145.85 518.35 L2151.18 523.34 L2156.52 528.36 L2161.86 533.42 L2167.19 538.51 L2172.52 543.63 L2177.86 548.79 L2183.19 553.98 L2188.53 559.2 L2193.86 564.46 L2199.2 569.75 L2204.53 575.07 L2209.87 580.43 L2215.2 585.81 L2220.54 591.23 L2225.88 596.68 L2231.21 602.17 L2236.55 607.68 L2241.88 613.23 L2247.22 618.81 L2252.55 624.42 L2257.88 630.06 L2263.22 635.73 L2268.55 641.43 L2273.89 647.17 L2279.22 652.93 L2284.56 658.72 L2289.89 664.55 L2295.23 670.4 L2300.57 676.28 L2305.9 682.19 L2311.23 688.13 L2316.57 694.1 L2321.9 700.1 L2327.24 706.13 L2332.57 712.18 L2337.91 718.27 L2343.24 724.38 L2348.58 730.52 L2353.91 736.68 L2359.25 742.87 L2364.59 749.09 L2369.92 755.34 L2375.26 761.61 L2380.59 767.91 L2385.93 774.23 L2391.26 780.58 L2396.59 786.96 L2401.93 793.36 L2407.26 799.78 L2412.6 806.23 L2417.93 812.7 L2423.27 819.2 L2428.6 825.72 L2433.94 832.26" stroke="#000000" stroke-width="8.2" stroke-dasharray="15.8 16.7" stroke-linecap="butt" stroke-linejoin="round"/>
<path d="M1452.3 170.14 L1457.63 170.16 L1462.97 170.22 L1468.31 170.33 L1473.64 170.47 L1478.97 170.66 L1484.31 170.89 L1489.64 171.16 L1494.98 171.47 L1500.32 171.82 L1505.65 172.22 L1510.98 172.65 L1516.32 173.13 L1521.65 173.65 L1526.99 174.21 L1532.33 174.82 L1537.66 175.46 L1542.99 176.15 L1548.33 176.87 L1553.66 177.64 L1559 178.45 L1564.34 179.31 L1569.67 180.2 L1575 181.14 L1580.34 182.11 L1585.67 183.13 L1591.01 184.19 L1596.35 185.3 L1601.68 186.44 L1607.01 187.63 L1612.35 188.85 L1617.68 190.12 L1623.02 191.43 L1628.36 192.79 L1633.69 194.18 L1639.02 195.62 L1644.36 197.1 L1649.69 198.62 L1655.03 200.18 L1660.37 201.78 L1665.7 203.43 L1671.03 205.11 L1676.37 206.84 L1681.7 208.61 L1687.04 210.42 L1692.38 212.28 L1697.71 214.17 L1703.04 216.11 L1708.38 218.09 L1713.71 220.11 L1719.05 222.18 L1724.38 224.28 L1729.72 226.43 L1735.05 228.62 L1740.39 230.85 L1745.72 233.12 L1751.06 235.44 L1756.39 237.79 L1761.73 240.19 L1767.07 242.63 L1772.4 245.11 L1777.73 247.64 L1783.07 250.2 L1788.4 252.81 L1793.74 255.46 L1799.07 258.15 L1804.41 260.88 L1809.74 263.65 L1815.08 266.47 L1820.41 269.33 L1825.75 272.23 L1831.09 275.17 L1836.42 278.15 L1841.75 281.18 L1847.09 284.24 L1852.42 287.35 L1857.76 290.5 L1863.09 293.69 L1868.43 296.93 L1873.76 300.2 L1879.1 303.51 L1884.43 306.87 L1889.77 310.27 L1895.11 313.71 L1900.44 317.19 L1905.78 320.71 L1911.11 324.28 L1916.44 327.88 L1921.78 331.52 L1927.11 335.21 L1932.45 338.94 L1937.78 342.71 L1943.12 346.51 L1948.45 350.36 L1953.79 354.25 L1959.12 358.19 L1964.46 362.16 L1969.8 366.17 L1975.13 370.22 L1980.46 374.31 L1985.8 378.44 L1991.13 382.62 L1996.47 386.83 L2001.8 391.08 L2007.14 395.37 L2012.47 399.7 L2017.81 404.07 L2023.14 408.48 L2028.48 412.93 L2033.82 417.42 L2039.15 421.95 L2044.48 426.51 L2049.82 431.11 L2055.15 435.76 L2060.49 440.44 L2065.82 445.16 L2071.16 449.91 L2076.49 454.71 L2081.83 459.54 L2087.16 464.41 L2092.5 469.32 L2097.84 474.26 L2103.17 479.24 L2108.51 484.26 L2113.84 489.31 L2119.17 494.4 L2124.51 499.53 L2129.84 504.69 L2135.18 509.89 L2140.51 515.12 L2145.85 520.38 L2151.18 525.69 L2156.52 531.02 L2161.86 536.39 L2167.19 541.8 L2172.52 547.23 L2177.86 552.7 L2183.19 558.21 L2188.53 563.74 L2193.86 569.31 L2199.2 574.91 L2204.53 580.54 L2209.87 586.21 L2215.2 591.9 L2220.54 597.63 L2225.88 603.38 L2231.21 609.17 L2236.55 614.98 L2241.88 620.83 L2247.22 626.7 L2252.55 632.6 L2257.88 638.53 L2263.22 644.48 L2268.55 650.47 L2273.89 656.48 L2279.22 662.51 L2284.56 668.57 L2289.89 674.66 L2295.23 680.77 L2300.57 686.9 L2305.9 693.06 L2311.23 699.24 L2316.57 705.45 L2321.9 711.67 L2327.24 717.92 L2332.57 724.19 L2337.91 730.47 L2343.24 736.78 L2348.58 743.11 L2353.91 749.45 L2359.25 755.82 L2364.59 762.2 L2369.92 768.59 L2375.26 775.01 L2380.59 781.43 L2385.93 787.88 L2391.26 794.33 L2396.59 800.8 L2401.93 807.28 L2407.26 813.78 L2412.6 820.28 L2417.93 826.79 L2423.27 833.32 L2428.6 839.85 L2433.94 846.39" stroke="#00ffff" stroke-width="8.2" stroke-dasharray="15.8 16.7" stroke-linecap="butt" stroke-linejoin="round"/>
<path d="M1452.3 149.63 L1457.63 149.65 L1462.97 149.72 L1468.31 149.83 L1473.64 149.98 L1478.97 150.18 L1484.31 150.42 L1489.64 150.7 L1494.98 151.03 L1500.32 151.4 L1505.65 151.82 L1510.98 152.27 L1516.32 152.78 L1521.65 153.32 L1526.99 153.91 L1532.33 154.55 L1537.66 155.22 L1542.99 155.94 L1548.33 156.71 L1553.66 157.52 L1559 158.37 L1564.34 159.27 L1569.67 160.21 L1575 161.19 L1580.34 162.22 L1585.67 163.29 L1591.01 164.4 L1596.35 165.56 L1601.68 166.77 L1607.01 168.01 L1612.35 169.3 L1617.68 170.64 L1623.02 172.02 L1628.36 173.44 L1633.69 174.91 L1639.02 176.42 L1644.36 177.98 L1649.69 179.57 L1655.03 181.22 L1660.37 182.91 L1665.7 184.64 L1671.03 186.41 L1676.37 188.23 L1681.7 190.1 L1687.04 192.01 L1692.38 193.96 L1697.71 195.96 L1703.04 198 L1708.38 200.08 L1713.71 202.21 L1719.05 204.39 L1724.38 206.61 L1729.72 208.87 L1735.05 211.18 L1740.39 213.53 L1745.72 215.93 L1751.06 218.37 L1756.39 220.85 L1761.73 223.38 L1767.07 225.95 L1772.4 228.57 L1777.73 231.24 L1783.07 233.94 L1788.4 236.7 L1793.74 239.49 L1799.07 242.33 L1804.41 245.22 L1809.74 248.15 L1815.08 251.12 L1820.41 254.14 L1825.75 257.21 L1831.09 260.31 L1836.42 263.47 L1841.75 266.66 L1847.09 269.9 L1852.42 273.19 L1857.76 276.52 L1863.09 279.89 L1868.43 283.31 L1873.76 286.78 L1879.1 290.28 L1884.43 293.83 L1889.77 297.43 L1895.11 301.07 L1900.44 304.75 L1905.78 308.48 L1911.11 312.25 L1916.44 316.07 L1921.78 319.93 L1927.11 323.83 L1932.45 327.78 L1937.78 331.77 L1943.12 335.81 L1948.45 339.89 L1953.79 344.01 L1959.12 348.17 L1964.46 352.38 L1969.8 356.63 L1975.13 360.93 L1980.46 365.27 L1985.8 369.65 L1991.13 374.07 L1996.47 378.54 L2001.8 383.05 L2007.14 387.6 L2012.47 392.19 L2017.81 396.83 L2023.14 401.51 L2028.48 406.23 L2033.82 410.99 L2039.15 415.79 L2044.48 420.64 L2049.82 425.52 L2055.15 430.45 L2060.49 435.42 L2065.82 440.43 L2071.16 445.48 L2076.49 450.56 L2081.83 455.69 L2087.16 460.86 L2092.5 466.07 L2097.84 471.32 L2103.17 476.61 L2108.51 481.93 L2113.84 487.3 L2119.17 492.7 L2124.51 498.14 L2129.84 503.62 L2135.18 509.14 L2140.51 514.69 L2145.85 520.28 L2151.18 525.91 L2156.52 531.57 L2161.86 537.27 L2167.19 543.01 L2172.52 548.78 L2177.86 554.58 L2183.19 560.42 L2188.53 566.29 L2193.86 572.2 L2199.2 578.14 L2204.53 584.11 L2209.87 590.12 L2215.2 596.16 L2220.54 602.22 L2225.88 608.32 L2231.21 614.46 L2236.55 620.62 L2241.88 626.81 L2247.22 633.03 L2252.55 639.27 L2257.88 645.55 L2263.22 651.85 L2268.55 658.19 L2273.89 664.54 L2279.22 670.93 L2284.56 677.33 L2289.89 683.77 L2295.23 690.22 L2300.57 696.7 L2305.9 703.21 L2311.23 709.73 L2316.57 716.28 L2321.9 722.85 L2327.24 729.43 L2332.57 736.04 L2337.91 742.66 L2343.24 749.31 L2348.58 755.97 L2353.91 762.64 L2359.25 769.33 L2364.59 776.04 L2369.92 782.76 L2375.26 789.49 L2380.59 796.24 L2385.93 802.99 L2391.26 809.76 L2396.59 816.54 L2401.93 823.32 L2407.26 830.11 L2412.6 836.91 L2417.93 843.72 L2423.27 850.53 L2428.6 857.34 L2433.94 864.15" stroke="#800080" stroke-width="8.2" stroke-dasharray="15.8 16.7" stroke-linecap="butt" stroke-linejoin="round"/>
<path d="M1452.3 124.27 L1457.63 124.3 L1462.97 124.37 L1468.31 124.48 L1473.64 124.65 L1478.97 124.86 L1484.31 125.13 L1489.64 125.43 L1494.98 125.79 L1500.32 126.19 L1505.65 126.64 L1510.98 127.14 L1516.32 127.69 L1521.65 128.28 L1526.99 128.92 L1532.33 129.61 L1537.66 130.35 L1542.99 131.13 L1548.33 131.96 L1553.66 132.84 L1559 133.76 L1564.34 134.74 L1569.67 135.76 L1575 136.83 L1580.34 137.94 L1585.67 139.11 L1591.01 140.32 L1596.35 141.58 L1601.68 142.88 L1607.01 144.24 L1612.35 145.64 L1617.68 147.09 L1623.02 148.59 L1628.36 150.13 L1633.69 151.73 L1639.02 153.37 L1644.36 155.06 L1649.69 156.79 L1655.03 158.58 L1660.37 160.41 L1665.7 162.29 L1671.03 164.22 L1676.37 166.19 L1681.7 168.22 L1687.04 170.29 L1692.38 172.41 L1697.71 174.58 L1703.04 176.79 L1708.38 179.05 L1713.71 181.36 L1719.05 183.72 L1724.38 186.13 L1729.72 188.59 L1735.05 191.09 L1740.39 193.64 L1745.72 196.24 L1751.06 198.89 L1756.39 201.58 L1761.73 204.32 L1767.07 207.11 L1772.4 209.95 L1777.73 212.84 L1783.07 215.77 L1788.4 218.76 L1793.74 221.79 L1799.07 224.86 L1804.41 227.99 L1809.74 231.17 L1815.08 234.39 L1820.41 237.66 L1825.75 240.97 L1831.09 244.34 L1836.42 247.75 L1841.75 251.21 L1847.09 254.72 L1852.42 258.28 L1857.76 261.88 L1863.09 265.53 L1868.43 269.23 L1873.76 272.98 L1879.1 276.77 L1884.43 280.61 L1889.77 284.5 L1895.11 288.43 L1900.44 292.41 L1905.78 296.44 L1911.11 300.52 L1916.44 304.64 L1921.78 308.81 L1927.11 313.03 L1932.45 317.29 L1937.78 321.6 L1943.12 325.95 L1948.45 330.35 L1953.79 334.8 L1959.12 339.3 L1964.46 343.84 L1969.8 348.42 L1975.13 353.05 L1980.46 357.73 L1985.8 362.45 L1991.13 367.21 L1996.47 372.02 L2001.8 376.88 L2007.14 381.78 L2012.47 386.72 L2017.81 391.71 L2023.14 396.75 L2028.48 401.82 L2033.82 406.94 L2039.15 412.11 L2044.48 417.31 L2049.82 422.56 L2055.15 427.85 L2060.49 433.19 L2065.82 438.56 L2071.16 443.98 L2076.49 449.44 L2081.83 454.94 L2087.16 460.48 L2092.5 466.06 L2097.84 471.68 L2103.17 477.35 L2108.51 483.05 L2113.84 488.79 L2119.17 494.57 L2124.51 500.39 L2129.84 506.24 L2135.18 512.14 L2140.51 518.07 L2145.85 524.03 L2151.18 530.04 L2156.52 536.08 L2161.86 542.16 L2167.19 548.27 L2172.52 554.41 L2177.86 560.59 L2183.19 566.81 L2188.53 573.06 L2193.86 579.33 L2199.2 585.65 L2204.53 591.99 L2209.87 598.36 L2215.2 604.77 L2220.54 611.2 L2225.88 617.67 L2231.21 624.16 L2236.55 630.68 L2241.88 637.23 L2247.22 643.81 L2252.55 650.41 L2257.88 657.03 L2263.22 663.68 L2268.55 670.36 L2273.89 677.06 L2279.22 683.78 L2284.56 690.52 L2289.89 697.28 L2295.23 704.07 L2300.57 710.87 L2305.9 717.69 L2311.23 724.53 L2316.57 731.39 L2321.9 738.26 L2327.24 745.14 L2332.57 752.05 L2337.91 758.96 L2343.24 765.88 L2348.58 772.82 L2353.91 779.77 L2359.25 786.72 L2364.59 793.69 L2369.92 800.66 L2375.26 807.64 L2380.59 814.62 L2385.93 821.61 L2391.26 828.6 L2396.59 835.59 L2401.93 842.58 L2407.26 849.57 L2412.6 856.55 L2417.93 863.54 L2423.27 870.52 L2428.6 877.49 L2433.94 884.46" stroke="#ff8000" stroke-width="8.2" stroke-dasharray="15.8 16.7" stroke-linecap="butt" stroke-linejoin="round"/>
<path d="M1452.3 54.62 L1457.63 54.65 L1462.97 54.74 L1468.31 54.89 L1473.64 55.09 L1478.97 55.36 L1484.31 55.68 L1489.64 56.06 L1494.98 56.5 L1500.32 57 L1505.65 57.56 L1510.98 58.18 L1516.32 58.86 L1521.65 59.59 L1526.99 60.38 L1532.33 61.24 L1537.66 62.15 L1542.99 63.12 L1548.33 64.15 L1553.66 65.23 L1559 66.38 L1564.34 67.58 L1569.67 68.85 L1575 70.17 L1580.34 71.55 L1585.67 72.99 L1591.01 74.49 L1596.35 76.04 L1601.68 77.66 L1607.01 79.33 L1612.35 81.06 L1617.68 82.85 L1623.02 84.7 L1628.36 86.61 L1633.69 88.57 L1639.02 90.6 L1644.36 92.68 L1649.69 94.82 L1655.03 97.02 L1660.37 99.27 L1665.7 101.59 L1671.03 103.96 L1676.37 106.39 L1681.7 108.88 L1687.04 111.42 L1692.38 114.03 L1697.71 116.69 L1703.04 119.41 L1708.38 122.18 L1713.71 125.02 L1719.05 127.91 L1724.38 130.86 L1729.72 133.86 L1735.05 136.93 L1740.39 140.05 L1745.72 143.23 L1751.06 146.46 L1756.39 149.76 L1761.73 153.1 L1767.07 156.51 L1772.4 159.97 L1777.73 163.49 L1783.07 167.07 L1788.4 170.7 L1793.74 174.39 L1799.07 178.13 L1804.41 181.93 L1809.74 185.79 L1815.08 189.7 L1820.41 193.67 L1825.75 197.69 L1831.09 201.77 L1836.42 205.91 L1841.75 210.1 L1847.09 214.34 L1852.42 218.64 L1857.76 222.99 L1863.09 227.4 L1868.43 231.86 L1873.76 236.38 L1879.1 240.95 L1884.43 245.58 L1889.77 250.25 L1895.11 254.99 L1900.44 259.77 L1905.78 264.61 L1911.11 269.5 L1916.44 274.44 L1921.78 279.44 L1927.11 284.49 L1932.45 289.59 L1937.78 294.74 L1943.12 299.94 L1948.45 305.19 L1953.79 310.5 L1959.12 315.85 L1964.46 321.26 L1969.8 326.71 L1975.13 332.22 L1980.46 337.77 L1985.8 343.38 L1991.13 349.03 L1996.47 354.73 L2001.8 360.48 L2007.14 366.28 L2012.47 372.12 L2017.81 378.02 L2023.14 383.96 L2028.48 389.94 L2033.82 395.97 L2039.15 402.05 L2044.48 408.17 L2049.82 414.34 L2055.15 420.55 L2060.49 426.81 L2065.82 433.11 L2071.16 439.45 L2076.49 445.83 L2081.83 452.26 L2087.16 458.73 L2092.5 465.24 L2097.84 471.79 L2103.17 478.38 L2108.51 485.01 L2113.84 491.68 L2119.17 498.39 L2124.51 505.14 L2129.84 511.92 L2135.18 518.74 L2140.51 525.6 L2145.85 532.49 L2151.18 539.42 L2156.52 546.38 L2161.86 553.38 L2167.19 560.41 L2172.52 567.47 L2177.86 574.57 L2183.19 581.69 L2188.53 588.85 L2193.86 596.03 L2199.2 603.25 L2204.53 610.49 L2209.87 617.76 L2215.2 625.05 L2220.54 632.38 L2225.88 639.72 L2231.21 647.1 L2236.55 654.49 L2241.88 661.91 L2247.22 669.35 L2252.55 676.81 L2257.88 684.29 L2263.22 691.78 L2268.55 699.3 L2273.89 706.83 L2279.22 714.38 L2284.56 721.95 L2289.89 729.53 L2295.23 737.12 L2300.57 744.72 L2305.9 752.33 L2311.23 759.96 L2316.57 767.59 L2321.9 775.23 L2327.24 782.88 L2332.57 790.53 L2337.91 798.18 L2343.24 805.84 L2348.58 813.5 L2353.91 821.16 L2359.25 828.82 L2364.59 836.48 L2369.92 844.13 L2375.26 851.78 L2380.59 859.43 L2385.93 867.06 L2391.26 874.69 L2396.59 882.3 L2401.93 889.91 L2407.26 897.5 L2412.6 905.08 L2417.93 912.64 L2423.27 920.18 L2428.6 927.7 L2433.94 935.2" stroke="#0000ff" stroke-width="8.2" stroke-dasharray="15.8 16.7" stroke-linecap="butt" stroke-linejoin="round"/>
</g>
<g stroke="#666666" fill="none">
<rect x="1431.4" y="5.5" width="1021.2" height="978.1" stroke-width="1.9"/>
<path d="M1452.3 983.6v-15.5 M1452.3 5.5v15.5 M1505.65 983.6v-9.3 M1505.65 5.5v9.3 M1559 983.6v-9.3 M1559 5.5v9.3 M1612.35 983.6v-9.3 M1612.35 5.5v9.3 M1665.7 983.6v-15.5 M1665.7 5.5v15.5 M1719.05 983.6v-9.3 M1719.05 5.5v9.3 M1772.4 983.6v-9.3 M1772.4 5.5v9.3 M1825.75 983.6v-9.3 M1825.75 5.5v9.3 M1879.1 983.6v-15.5 M1879.1 5.5v15.5 M1932.45 983.6v-9.3 M1932.45 5.5v9.3 M1985.8 983.6v-9.3 M1985.8 5.5v9.3 M2039.15 983.6v-9.3 M2039.15 5.5v9.3 M2092.5 983.6v-15.5 M2092.5 5.5v15.5 M2145.85 983.6v-9.3 M2145.85 5.5v9.3 M2199.2 983.6v-9.3 M2199.2 5.5v9.3 M2252.55 983.6v-9.3 M2252.55 5.5v9.3 M2305.9 983.6v-15.5 M2305.9 5.5v15.5 M2359.25 983.6v-9.3 M2359.25 5.5v9.3 M2412.6 983.6v-9.3 M2412.6 5.5v9.3 M1431.4 943.3h6 M2452.6 943.3h-6 M1431.4 891.9h10 M2452.6 891.9h-10 M1431.4 840.5h6 M2452.6 840.5h-6 M1431.4 789.1h6 M2452.6 789.1h-6 M1431.4 737.7h6 M2452.6 737.7h-6 M1431.4 686.3h6 M2452.6 686.3h-6 M1431.4 634.9h10 M2452.6 634.9h-10 M1431.4 583.5h6 M2452.6 583.5h-6 M1431.4 532.1h6 M2452.6 532.1h-6 M1431.4 480.7h6 M2452.6 480.7h-6 M1431.4 429.3h6 M2452.6 429.3h-6 M1431.4 377.9h10 M2452.6 377.9h-10 M1431.4 326.5h6 M2452.6 326.5h-6 M1431.4 275.1h6 M2452.6 275.1h-6 M1431.4 223.7h6 M2452.6 223.7h-6 M1431.4 172.3h6 M2452.6 172.3h-6 M1431.4 120.9h10 M2452.6 120.9h-10 M1431.4 69.5h6 M2452.6 69.5h-6 M1431.4 18.1h6 M2452.6 18.1h-6" stroke-width="1.5"/>
</g>
<g transform="scale(0.63,1)" font-family="'Liberation Sans', sans-serif" font-weight="bold" fill="#000" stroke="#000" stroke-width="1" stroke-linejoin="round" font-size="61.5">
<g text-anchor="middle">
<text x="2305.24" y="1053.2">0</text>
<text x="2643.97" y="1053.2">2</text>
<text x="2982.7" y="1053.2">4</text>
<text x="3321.43" y="1053.2">6</text>
<text x="3660.16" y="1053.2">8</text>
<text x="3082.54" y="1148.3">r</text>
</g>
<g text-anchor="end">
<text x="2255.71" y="912.8">300</text>
<text x="2255.71" y="655.8">350</text>
<text x="2255.71" y="398.8">400</text>
<text x="2255.71" y="141.8">450</text>
</g>
</g>
<g transform="scale(0.645,1)" font-family="'Liberation Sans', sans-serif" font-weight="bold" fill="#000">
<text transform="translate(2054.73,495.2)  rotate(-90)" font-size="61.5" stroke="#000" stroke-width="0.8" text-anchor="middle" textLength="797" lengthAdjust="spacingAndGlyphs">Energy Conditions MeV/fm<tspan font-size="48" dy="-27">3</tspan></text>
</g>
<g fill="none">
<path d="M2699.5 934.3 L2704.85 934.3 L2710.2 934.3 L2715.55 934.3 L2720.91 934.3 L2726.26 934.3 L2731.61 934.3 L2736.96 934.29 L2742.31 934.29 L2747.66 934.29 L2753.01 934.28 L2758.37 934.27 L2763.72 934.27 L2769.07 934.25 L2774.42 934.24 L2779.77 934.23 L2785.12 934.21 L2790.48 934.19 L2795.83 934.16 L2801.18 934.14 L2806.53 934.1 L2811.88 934.07 L2817.23 934.03 L2822.58 933.99 L2827.94 933.94 L2833.29 933.88 L2838.64 933.82 L2843.99 933.76 L2849.34 933.69 L2854.69 933.61 L2860.05 933.53 L2865.4 933.43 L2870.75 933.33 L2876.1 933.23 L2881.45 933.11 L2886.8 932.99 L2892.15 932.86 L2897.51 932.72 L2902.86 932.57 L2908.21 932.41 L2913.56 932.24 L2918.91 932.06 L2924.26 931.87 L2929.61 931.66 L2934.97 931.45 L2940.32 931.22 L2945.67 930.98 L2951.02 930.73 L2956.37 930.47 L2961.72 930.19 L2967.07 929.9 L2972.43 929.59 L2977.78 929.27 L2983.13 928.93 L2988.48 928.58 L2993.83 928.21 L2999.18 927.82 L3004.54 927.42 L3009.89 927 L3015.24 926.57 L3020.59 926.11 L3025.94 925.64 L3031.29 925.15 L3036.64 924.63 L3042 924.1 L3047.35 923.55 L3052.7 922.98 L3058.05 922.38 L3063.4 921.77 L3068.75 921.13 L3074.11 920.47 L3079.46 919.78 L3084.81 919.08 L3090.16 918.35 L3095.51 917.59 L3100.86 916.81 L3106.21 916 L3111.57 915.17 L3116.92 914.31 L3122.27 913.43 L3127.62 912.52 L3132.97 911.58 L3138.32 910.61 L3143.67 909.61 L3149.03 908.58 L3154.38 907.53 L3159.73 906.44 L3165.08 905.33 L3170.43 904.18 L3175.78 903 L3181.14 901.78 L3186.49 900.54 L3191.84 899.26 L3197.19 897.95 L3202.54 896.6 L3207.89 895.22 L3213.24 893.8 L3218.6 892.35 L3223.95 890.86 L3229.3 889.33 L3234.65 887.77 L3240 886.17 L3245.35 884.53 L3250.7 882.85 L3256.06 881.13 L3261.41 879.37 L3266.76 877.57 L3272.11 875.73 L3277.46 873.85 L3282.81 871.92 L3288.16 869.95 L3293.52 867.94 L3298.87 865.89 L3304.22 863.79 L3309.57 861.64 L3314.92 859.45 L3320.27 857.21 L3325.63 854.93 L3330.98 852.6 L3336.33 850.22 L3341.68 847.79 L3347.03 845.32 L3352.38 842.79 L3357.73 840.21 L3363.09 837.59 L3368.44 834.91 L3373.79 832.18 L3379.14 829.39 L3384.49 826.56 L3389.84 823.67 L3395.19 820.72 L3400.55 817.72 L3405.9 814.67 L3411.25 811.56 L3416.6 808.39 L3421.95 805.17 L3427.3 801.89 L3432.66 798.54 L3438.01 795.14 L3443.36 791.68 L3448.71 788.16 L3454.06 784.58 L3459.41 780.94 L3464.76 777.24 L3470.12 773.47 L3475.47 769.64 L3480.82 765.74 L3486.17 761.78 L3491.52 757.76 L3496.87 753.67 L3502.22 749.51 L3507.58 745.29 L3512.93 741 L3518.28 736.64 L3523.63 732.21 L3528.98 727.71 L3534.33 723.14 L3539.69 718.5 L3545.04 713.79 L3550.39 709.01 L3555.74 704.15 L3561.09 699.22 L3566.44 694.22 L3571.79 689.14 L3577.15 683.99 L3582.5 678.76 L3587.85 673.45 L3593.2 668.07 L3598.55 662.61 L3603.9 657.07 L3609.26 651.45 L3614.61 645.75 L3619.96 639.97 L3625.31 634.11 L3630.66 628.17 L3636.01 622.14 L3641.36 616.03 L3646.72 609.84 L3652.07 603.56 L3657.42 597.2 L3662.77 590.75 L3668.12 584.22 L3673.47 577.59 L3678.82 570.88 L3684.18 564.09" stroke="#000000" stroke-width="8.3" stroke-linecap="square" stroke-linejoin="round"/>
<path d="M2699.5 934.3 L2704.85 934.3 L2710.2 934.3 L2715.55 934.3 L2720.91 934.3 L2726.26 934.3 L2731.61 934.3 L2736.96 934.29 L2742.31 934.29 L2747.66 934.28 L2753.01 934.27 L2758.37 934.26 L2763.72 934.25 L2769.07 934.24 L2774.42 934.22 L2779.77 934.2 L2785.12 934.17 L2790.48 934.15 L2795.83 934.11 L2801.18 934.08 L2806.53 934.03 L2811.88 933.99 L2817.23 933.93 L2822.58 933.87 L2827.94 933.81 L2833.29 933.74 L2838.64 933.66 L2843.99 933.57 L2849.34 933.48 L2854.69 933.38 L2860.05 933.26 L2865.4 933.14 L2870.75 933.02 L2876.1 932.88 L2881.45 932.73 L2886.8 932.57 L2892.15 932.4 L2897.51 932.21 L2902.86 932.02 L2908.21 931.81 L2913.56 931.59 L2918.91 931.36 L2924.26 931.11 L2929.61 930.85 L2934.97 930.57 L2940.32 930.28 L2945.67 929.98 L2951.02 929.65 L2956.37 929.31 L2961.72 928.96 L2967.07 928.59 L2972.43 928.19 L2977.78 927.78 L2983.13 927.36 L2988.48 926.91 L2993.83 926.44 L2999.18 925.95 L3004.54 925.44 L3009.89 924.91 L3015.24 924.36 L3020.59 923.79 L3025.94 923.19 L3031.29 922.57 L3036.64 921.92 L3042 921.25 L3047.35 920.56 L3052.7 919.84 L3058.05 919.09 L3063.4 918.32 L3068.75 917.52 L3074.11 916.7 L3079.46 915.84 L3084.81 914.96 L3090.16 914.04 L3095.51 913.1 L3100.86 912.13 L3106.21 911.12 L3111.57 910.09 L3116.92 909.02 L3122.27 907.92 L3127.62 906.79 L3132.97 905.62 L3138.32 904.42 L3143.67 903.18 L3149.03 901.91 L3154.38 900.6 L3159.73 899.26 L3165.08 897.88 L3170.43 896.46 L3175.78 895 L3181.14 893.51 L3186.49 891.97 L3191.84 890.4 L3197.19 888.78 L3202.54 887.12 L3207.89 885.42 L3213.24 883.68 L3218.6 881.9 L3223.95 880.07 L3229.3 878.2 L3234.65 876.28 L3240 874.31 L3245.35 872.31 L3250.7 870.25 L3256.06 868.15 L3261.41 866 L3266.76 863.8 L3272.11 861.55 L3277.46 859.25 L3282.81 856.9 L3288.16 854.5 L3293.52 852.05 L3298.87 849.54 L3304.22 846.98 L3309.57 844.37 L3314.92 841.71 L3320.27 838.99 L3325.63 836.21 L3330.98 833.38 L3336.33 830.49 L3341.68 827.55 L3347.03 824.54 L3352.38 821.48 L3357.73 818.36 L3363.09 815.18 L3368.44 811.93 L3373.79 808.63 L3379.14 805.26 L3384.49 801.83 L3389.84 798.34 L3395.19 794.79 L3400.55 791.16 L3405.9 787.48 L3411.25 783.72 L3416.6 779.91 L3421.95 776.02 L3427.3 772.06 L3432.66 768.04 L3438.01 763.95 L3443.36 759.78 L3448.71 755.55 L3454.06 751.24 L3459.41 746.87 L3464.76 742.42 L3470.12 737.89 L3475.47 733.29 L3480.82 728.62 L3486.17 723.87 L3491.52 719.05 L3496.87 714.15 L3502.22 709.17 L3507.58 704.11 L3512.93 698.97 L3518.28 693.75 L3523.63 688.45 L3528.98 683.08 L3534.33 677.61 L3539.69 672.07 L3545.04 666.44 L3550.39 660.73 L3555.74 654.94 L3561.09 649.06 L3566.44 643.09 L3571.79 637.03 L3577.15 630.89 L3582.5 624.66 L3587.85 618.34 L3593.2 611.93 L3598.55 605.43 L3603.9 598.84 L3609.26 592.15 L3614.61 585.38 L3619.96 578.51 L3625.31 571.54 L3630.66 564.48 L3636.01 557.33 L3641.36 550.07 L3646.72 542.73 L3652.07 535.28 L3657.42 527.73 L3662.77 520.09 L3668.12 512.34 L3673.47 504.5 L3678.82 496.55 L3684.18 488.5" stroke="#00ffff" stroke-width="8.3" stroke-linecap="square" stroke-linejoin="round"/>
<path d="M2699.5 934.3 L2704.85 934.3 L2710.2 934.3 L2715.55 934.3 L2720.91 934.3 L2726.26 934.3 L2731.61 934.29 L2736.96 934.29 L2742.31 934.28 L2747.66 934.28 L2753.01 934.27 L2758.37 934.25 L2763.72 934.24 L2769.07 934.22 L2774.42 934.2 L2779.77 934.17 L2785.12 934.14 L2790.48 934.1 L2795.83 934.06 L2801.18 934.01 L2806.53 933.96 L2811.88 933.9 L2817.23 933.83 L2822.58 933.76 L2827.94 933.68 L2833.29 933.59 L2838.64 933.49 L2843.99 933.38 L2849.34 933.26 L2854.69 933.13 L2860.05 932.99 L2865.4 932.84 L2870.75 932.68 L2876.1 932.51 L2881.45 932.32 L2886.8 932.12 L2892.15 931.91 L2897.51 931.68 L2902.86 931.44 L2908.21 931.18 L2913.56 930.91 L2918.91 930.62 L2924.26 930.31 L2929.61 929.99 L2934.97 929.65 L2940.32 929.29 L2945.67 928.91 L2951.02 928.51 L2956.37 928.09 L2961.72 927.65 L2967.07 927.19 L2972.43 926.71 L2977.78 926.21 L2983.13 925.68 L2988.48 925.13 L2993.83 924.55 L2999.18 923.95 L3004.54 923.33 L3009.89 922.68 L3015.24 922 L3020.59 921.29 L3025.94 920.56 L3031.29 919.8 L3036.64 919.01 L3042 918.19 L3047.35 917.34 L3052.7 916.46 L3058.05 915.55 L3063.4 914.6 L3068.75 913.62 L3074.11 912.61 L3079.46 911.57 L3084.81 910.49 L3090.16 909.38 L3095.51 908.23 L3100.86 907.04 L3106.21 905.82 L3111.57 904.56 L3116.92 903.26 L3122.27 901.92 L3127.62 900.54 L3132.97 899.12 L3138.32 897.66 L3143.67 896.15 L3149.03 894.61 L3154.38 893.02 L3159.73 891.39 L3165.08 889.71 L3170.43 887.99 L3175.78 886.22 L3181.14 884.41 L3186.49 882.54 L3191.84 880.63 L3197.19 878.68 L3202.54 876.67 L3207.89 874.61 L3213.24 872.5 L3218.6 870.34 L3223.95 868.13 L3229.3 865.86 L3234.65 863.54 L3240 861.17 L3245.35 858.74 L3250.7 856.26 L3256.06 853.72 L3261.41 851.12 L3266.76 848.47 L3272.11 845.75 L3277.46 842.98 L3282.81 840.14 L3288.16 837.25 L3293.52 834.29 L3298.87 831.27 L3304.22 828.19 L3309.57 825.05 L3314.92 821.84 L3320.27 818.56 L3325.63 815.22 L3330.98 811.81 L3336.33 808.34 L3341.68 804.79 L3347.03 801.18 L3352.38 797.5 L3357.73 793.74 L3363.09 789.92 L3368.44 786.02 L3373.79 782.05 L3379.14 778.01 L3384.49 773.89 L3389.84 769.7 L3395.19 765.43 L3400.55 761.09 L3405.9 756.66 L3411.25 752.16 L3416.6 747.58 L3421.95 742.92 L3427.3 738.18 L3432.66 733.36 L3438.01 728.45 L3443.36 723.47 L3448.71 718.4 L3454.06 713.24 L3459.41 708 L3464.76 702.67 L3470.12 697.26 L3475.47 691.76 L3480.82 686.17 L3486.17 680.49 L3491.52 674.72 L3496.87 668.85 L3502.22 662.9 L3507.58 656.86 L3512.93 650.72 L3518.28 644.48 L3523.63 638.16 L3528.98 631.73 L3534.33 625.21 L3539.69 618.59 L3545.04 611.88 L3550.39 605.06 L3555.74 598.15 L3561.09 591.13 L3566.44 584.01 L3571.79 576.79 L3577.15 569.47 L3582.5 562.04 L3587.85 554.51 L3593.2 546.87 L3598.55 539.12 L3603.9 531.27 L3609.26 523.31 L3614.61 515.24 L3619.96 507.06 L3625.31 498.76 L3630.66 490.36 L3636.01 481.85 L3641.36 473.22 L3646.72 464.47 L3652.07 455.61 L3657.42 446.64 L3662.77 437.55 L3668.12 428.34 L3673.47 419.01 L3678.82 409.56 L3684.18 400" stroke="#800080" stroke-width="8.3" stroke-linecap="square" stroke-linejoin="round"/>
<path d="M2699.5 934.3 L2704.85 934.3 L2710.2 934.3 L2715.55 934.3 L2720.91 934.3 L2726.26 934.29 L2731.61 934.29 L2736.96 934.28 L2742.31 934.27 L2747.66 934.26 L2753.01 934.24 L2758.37 934.22 L2763.72 934.2 L2769.07 934.17 L2774.42 934.13 L2779.77 934.09 L2785.12 934.05 L2790.48 933.99 L2795.83 933.93 L2801.18 933.86 L2806.53 933.78 L2811.88 933.7 L2817.23 933.6 L2822.58 933.5 L2827.94 933.38 L2833.29 933.25 L2838.64 933.11 L2843.99 932.96 L2849.34 932.79 L2854.69 932.61 L2860.05 932.42 L2865.4 932.21 L2870.75 931.99 L2876.1 931.75 L2881.45 931.5 L2886.8 931.23 L2892.15 930.94 L2897.51 930.63 L2902.86 930.3 L2908.21 929.95 L2913.56 929.59 L2918.91 929.2 L2924.26 928.79 L2929.61 928.36 L2934.97 927.91 L2940.32 927.43 L2945.67 926.93 L2951.02 926.41 L2956.37 925.86 L2961.72 925.28 L2967.07 924.68 L2972.43 924.05 L2977.78 923.39 L2983.13 922.7 L2988.48 921.99 L2993.83 921.24 L2999.18 920.47 L3004.54 919.66 L3009.89 918.82 L3015.24 917.95 L3020.59 917.04 L3025.94 916.1 L3031.29 915.13 L3036.64 914.12 L3042 913.08 L3047.35 911.99 L3052.7 910.88 L3058.05 909.72 L3063.4 908.52 L3068.75 907.29 L3074.11 906.01 L3079.46 904.69 L3084.81 903.33 L3090.16 901.93 L3095.51 900.49 L3100.86 899 L3106.21 897.47 L3111.57 895.89 L3116.92 894.26 L3122.27 892.59 L3127.62 890.87 L3132.97 889.11 L3138.32 887.29 L3143.67 885.43 L3149.03 883.51 L3154.38 881.54 L3159.73 879.52 L3165.08 877.45 L3170.43 875.33 L3175.78 873.15 L3181.14 870.91 L3186.49 868.62 L3191.84 866.27 L3197.19 863.87 L3202.54 861.41 L3207.89 858.89 L3213.24 856.3 L3218.6 853.66 L3223.95 850.96 L3229.3 848.2 L3234.65 845.37 L3240 842.48 L3245.35 839.53 L3250.7 836.51 L3256.06 833.42 L3261.41 830.27 L3266.76 827.05 L3272.11 823.76 L3277.46 820.41 L3282.81 816.98 L3288.16 813.48 L3293.52 809.92 L3298.87 806.28 L3304.22 802.56 L3309.57 798.78 L3314.92 794.91 L3320.27 790.98 L3325.63 786.96 L3330.98 782.87 L3336.33 778.71 L3341.68 774.46 L3347.03 770.14 L3352.38 765.73 L3357.73 761.24 L3363.09 756.67 L3368.44 752.02 L3373.79 747.29 L3379.14 742.47 L3384.49 737.57 L3389.84 732.58 L3395.19 727.5 L3400.55 722.33 L3405.9 717.08 L3411.25 711.74 L3416.6 706.31 L3421.95 700.78 L3427.3 695.17 L3432.66 689.46 L3438.01 683.66 L3443.36 677.76 L3448.71 671.77 L3454.06 665.69 L3459.41 659.5 L3464.76 653.22 L3470.12 646.84 L3475.47 640.36 L3480.82 633.78 L3486.17 627.1 L3491.52 620.32 L3496.87 613.44 L3502.22 606.45 L3507.58 599.35 L3512.93 592.16 L3518.28 584.85 L3523.63 577.44 L3528.98 569.92 L3534.33 562.29 L3539.69 554.55 L3545.04 546.7 L3550.39 538.74 L3555.74 530.67 L3561.09 522.48 L3566.44 514.18 L3571.79 505.77 L3577.15 497.23 L3582.5 488.59 L3587.85 479.82 L3593.2 470.94 L3598.55 461.93 L3603.9 452.81 L3609.26 443.57 L3614.61 434.2 L3619.96 424.71 L3625.31 415.1 L3630.66 405.36 L3636.01 395.49 L3641.36 385.5 L3646.72 375.39 L3652.07 365.14 L3657.42 354.77 L3662.77 344.26 L3668.12 333.62 L3673.47 322.86 L3678.82 311.96 L3684.18 300.92" stroke="#ff8000" stroke-width="8.3" stroke-linecap="square" stroke-linejoin="round"/>
<path d="M2699.5 934.3 L2704.85 934.3 L2710.2 934.3 L2715.55 934.3 L2720.91 934.3 L2726.26 934.3 L2731.61 934.3 L2736.96 934.29 L2742.31 934.29 L2747.66 934.28 L2753.01 934.27 L2758.37 934.26 L2763.72 934.24 L2769.07 934.21 L2774.42 934.18 L2779.77 934.14 L2785.12 934.1 L2790.48 934.04 L2795.83 933.98 L2801.18 933.91 L2806.53 933.82 L2811.88 933.72 L2817.23 933.61 L2822.58 933.48 L2827.94 933.34 L2833.29 933.18 L2838.64 933.01 L2843.99 932.81 L2849.34 932.6 L2854.69 932.36 L2860.05 932.1 L2865.4 931.82 L2870.75 931.52 L2876.1 931.19 L2881.45 930.83 L2886.8 930.45 L2892.15 930.04 L2897.51 929.6 L2902.86 929.12 L2908.21 928.62 L2913.56 928.08 L2918.91 927.51 L2924.26 926.91 L2929.61 926.27 L2934.97 925.59 L2940.32 924.87 L2945.67 924.12 L2951.02 923.32 L2956.37 922.49 L2961.72 921.61 L2967.07 920.68 L2972.43 919.72 L2977.78 918.7 L2983.13 917.65 L2988.48 916.54 L2993.83 915.38 L2999.18 914.18 L3004.54 912.92 L3009.89 911.62 L3015.24 910.26 L3020.59 908.84 L3025.94 907.38 L3031.29 905.85 L3036.64 904.27 L3042 902.64 L3047.35 900.94 L3052.7 899.18 L3058.05 897.37 L3063.4 895.49 L3068.75 893.55 L3074.11 891.54 L3079.46 889.48 L3084.81 887.34 L3090.16 885.14 L3095.51 882.88 L3100.86 880.54 L3106.21 878.14 L3111.57 875.67 L3116.92 873.12 L3122.27 870.51 L3127.62 867.82 L3132.97 865.06 L3138.32 862.22 L3143.67 859.31 L3149.03 856.32 L3154.38 853.26 L3159.73 850.12 L3165.08 846.9 L3170.43 843.6 L3175.78 840.22 L3181.14 836.75 L3186.49 833.21 L3191.84 829.58 L3197.19 825.87 L3202.54 822.08 L3207.89 818.2 L3213.24 814.24 L3218.6 810.18 L3223.95 806.04 L3229.3 801.81 L3234.65 797.5 L3240 793.09 L3245.35 788.59 L3250.7 784 L3256.06 779.32 L3261.41 774.54 L3266.76 769.68 L3272.11 764.71 L3277.46 759.65 L3282.81 754.5 L3288.16 749.25 L3293.52 743.9 L3298.87 738.45 L3304.22 732.91 L3309.57 727.26 L3314.92 721.52 L3320.27 715.67 L3325.63 709.72 L3330.98 703.67 L3336.33 697.52 L3341.68 691.26 L3347.03 684.9 L3352.38 678.43 L3357.73 671.86 L3363.09 665.18 L3368.44 658.39 L3373.79 651.5 L3379.14 644.5 L3384.49 637.38 L3389.84 630.16 L3395.19 622.83 L3400.55 615.39 L3405.9 607.84 L3411.25 600.17 L3416.6 592.39 L3421.95 584.5 L3427.3 576.5 L3432.66 568.37 L3438.01 560.14 L3443.36 551.79 L3448.71 543.32 L3454.06 534.73 L3459.41 526.03 L3464.76 517.21 L3470.12 508.27 L3475.47 499.21 L3480.82 490.03 L3486.17 480.74 L3491.52 471.32 L3496.87 461.77 L3502.22 452.11 L3507.58 442.32 L3512.93 432.42 L3518.28 422.38 L3523.63 412.22 L3528.98 401.94 L3534.33 391.53 L3539.69 381 L3545.04 370.34 L3550.39 359.55 L3555.74 348.64 L3561.09 337.6 L3566.44 326.43 L3571.79 315.13 L3577.15 303.7 L3582.5 292.14 L3587.85 280.45 L3593.2 268.63 L3598.55 256.68 L3603.9 244.6 L3609.26 232.38 L3614.61 220.03 L3619.96 207.55 L3625.31 194.93 L3630.66 182.18 L3636.01 169.3 L3641.36 156.28 L3646.72 143.12 L3652.07 129.83 L3657.42 116.4 L3662.77 102.84 L3668.12 89.13 L3673.47 75.29 L3678.82 61.31 L3684.18 47.19" stroke="#0000ff" stroke-width="8.3" stroke-linecap="square" stroke-linejoin="round"/>
</g>
<g stroke="#666666" fill="none">
<rect x="2678.6" y="8.7" width="1024.2" height="974.9" stroke-width="1.9"/>
<path d="M2699.5 983.6v-15.5 M2699.5 8.7v15.5 M2753.01 983.6v-9.3 M2753.01 8.7v9.3 M2806.53 983.6v-9.3 M2806.53 8.7v9.3 M2860.05 983.6v-9.3 M2860.05 8.7v9.3 M2913.56 983.6v-15.5 M2913.56 8.7v15.5 M2967.07 983.6v-9.3 M2967.07 8.7v9.3 M3020.59 983.6v-9.3 M3020.59 8.7v9.3 M3074.11 983.6v-9.3 M3074.11 8.7v9.3 M3127.62 983.6v-15.5 M3127.62 8.7v15.5 M3181.14 983.6v-9.3 M3181.14 8.7v9.3 M3234.65 983.6v-9.3 M3234.65 8.7v9.3 M3288.16 983.6v-9.3 M3288.16 8.7v9.3 M3341.68 983.6v-15.5 M3341.68 8.7v15.5 M3395.2 983.6v-9.3 M3395.2 8.7v9.3 M3448.71 983.6v-9.3 M3448.71 8.7v9.3 M3502.22 983.6v-9.3 M3502.22 8.7v9.3 M3555.74 983.6v-15.5 M3555.74 8.7v15.5 M3609.26 983.6v-9.3 M3609.26 8.7v9.3 M3662.77 983.6v-9.3 M3662.77 8.7v9.3 M2678.6 979.03h6 M3702.8 979.03h-6 M2678.6 934.3h10 M3702.8 934.3h-10 M2678.6 889.57h6 M3702.8 889.57h-6 M2678.6 844.84h6 M3702.8 844.84h-6 M2678.6 800.11h6 M3702.8 800.11h-6 M2678.6 755.38h10 M3702.8 755.38h-10 M2678.6 710.65h6 M3702.8 710.65h-6 M2678.6 665.92h6 M3702.8 665.92h-6 M2678.6 621.19h6 M3702.8 621.19h-6 M2678.6 576.46h10 M3702.8 576.46h-10 M2678.6 531.73h6 M3702.8 531.73h-6 M2678.6 487h6 M3702.8 487h-6 M2678.6 442.27h6 M3702.8 442.27h-6 M2678.6 397.54h10 M3702.8 397.54h-10 M2678.6 352.81h6 M3702.8 352.81h-6 M2678.6 308.08h6 M3702.8 308.08h-6 M2678.6 263.35h6 M3702.8 263.35h-6 M2678.6 218.62h10 M3702.8 218.62h-10 M2678.6 173.89h6 M3702.8 173.89h-6 M2678.6 129.16h6 M3702.8 129.16h-6 M2678.6 84.43h6 M3702.8 84.43h-6 M2678.6 39.7h10 M3702.8 39.7h-10" stroke-width="1.5"/>
</g>
<g transform="scale(0.63,1)" font-family="'Liberation Sans', sans-serif" font-weight="bold" fill="#000" stroke="#000" stroke-width="1" stroke-linejoin="round" font-size="61.5">
<g text-anchor="middle">
<text x="4284.92" y="1053.2">0</text>
<text x="4624.7" y="1053.2">2</text>
<text x="4964.48" y="1053.2">4</text>
<text x="5304.25" y="1053.2">6</text>
<text x="5644.03" y="1053.2">8</text>
<text x="5064.6" y="1148.3">r</text>
</g>
<g text-anchor="end">
<text x="4235.4" y="955.2">0</text>
<text x="4235.4" y="776.28">20</text>
<text x="4235.4" y="597.36">40</text>
<text x="4235.4" y="418.44">60</text>
<text x="4235.4" y="239.52">80</text>
<text x="4235.4" y="60.6">100</text>
</g>
</g>
<g transform="scale(0.645,1)" font-family="'Liberation Sans', sans-serif" font-weight="bold" fill="#000">
<text transform="translate(3996.59,497)  rotate(-90)" font-size="61.5" stroke="#000" stroke-width="0.8" text-anchor="middle" textLength="323" lengthAdjust="spacingAndGlyphs">Δ(MeV/fm<tspan font-size="48" dy="-27">3</tspan><tspan dy="27">)</tspan></text>
</g>
<g fill="#000">
<text transform="translate(730.75,104.6) scale(0.6448,1)" font-family="'Liberation Sans', sans-serif" font-size="56" font-weight="bold" stroke="#000" stroke-width="1.2" stroke-linejoin="round">Dot Dashed</text>
<text transform="translate(940.74,107.6) scale(0.6678,1)" font-family="'Liberation Sans', sans-serif" font-size="51" font-weight="bold" stroke="#000" stroke-width="1.0" stroke-linejoin="round">=</text>
<text transform="translate(971.9,104.6) scale(0.6450,1)" font-family="'Liberation Sans', sans-serif" font-size="56" font-weight="bold" font-style="italic" stroke="#000" stroke-width="1.0" stroke-linejoin="round">ρ</text>
<text transform="translate(1000.69,107.6) scale(0.6407,1)" font-family="'Liberation Sans', sans-serif" font-size="51" font-weight="bold" stroke="#000" stroke-width="1.0" stroke-linejoin="round">+</text>
<text transform="translate(1030.6,104.6) scale(0.6450,1)" font-family="'Liberation Sans', sans-serif" font-size="56" font-weight="bold" font-style="italic" stroke="#000" stroke-width="1.0" stroke-linejoin="round">p</text>
<text transform="translate(1052.57,116.1) scale(0.6450,1)" font-family="'Liberation Sans', sans-serif" font-size="44" font-weight="bold" font-style="italic" stroke="#000" stroke-width="1.0" stroke-linejoin="round">r</text>
<text transform="translate(1067.19,107.6) scale(0.6407,1)" font-family="'Liberation Sans', sans-serif" font-size="51" font-weight="bold" stroke="#000" stroke-width="1.0" stroke-linejoin="round">+</text>
<text transform="translate(1086.32,104.6) scale(0.6450,1)" font-family="'Liberation Sans', sans-serif" font-size="56" font-weight="bold" stroke="#000" stroke-width="1.2" stroke-linejoin="round">2</text>
<text transform="translate(1117.9,104.6) scale(0.6450,1)" font-family="'Liberation Sans', sans-serif" font-size="56" font-weight="bold" font-style="italic" stroke="#000" stroke-width="1.0" stroke-linejoin="round">p</text>
<text transform="translate(1139.66,116.1) scale(0.6450,1)" font-family="'Liberation Sans', sans-serif" font-size="44" font-weight="bold" font-style="italic" stroke="#000" stroke-width="1.0" stroke-linejoin="round">t</text>
<text transform="translate(802.38,181.2) scale(0.6376,1)" font-family="'Liberation Sans', sans-serif" font-size="56" font-weight="bold" stroke="#000" stroke-width="1.2" stroke-linejoin="round">Dashed</text>
<text transform="translate(941.54,184.2) scale(0.6678,1)" font-family="'Liberation Sans', sans-serif" font-size="51" font-weight="bold" stroke="#000" stroke-width="1.0" stroke-linejoin="round">=</text>
<text transform="translate(972.7,181.2) scale(0.6450,1)" font-family="'Liberation Sans', sans-serif" font-size="56" font-weight="bold" font-style="italic" stroke="#000" stroke-width="1.0" stroke-linejoin="round">ρ</text>
<text transform="translate(1001.49,184.2) scale(0.6407,1)" font-family="'Liberation Sans', sans-serif" font-size="51" font-weight="bold" stroke="#000" stroke-width="1.0" stroke-linejoin="round">+</text>
<text transform="translate(1031.9,181.2) scale(0.6450,1)" font-family="'Liberation Sans', sans-serif" font-size="56" font-weight="bold" font-style="italic" stroke="#000" stroke-width="1.0" stroke-linejoin="round">p</text>
<text transform="translate(1053.66,192.7) scale(0.6450,1)" font-family="'Liberation Sans', sans-serif" font-size="44" font-weight="bold" font-style="italic" stroke="#000" stroke-width="1.0" stroke-linejoin="round">t</text>
<text transform="translate(844.41,263.7) scale(0.6351,1)" font-family="'Liberation Sans', sans-serif" font-size="56" font-weight="bold" stroke="#000" stroke-width="1.2" stroke-linejoin="round">Solid</text>
<text transform="translate(940.74,266.7) scale(0.6678,1)" font-family="'Liberation Sans', sans-serif" font-size="51" font-weight="bold" stroke="#000" stroke-width="1.0" stroke-linejoin="round">=</text>
<text transform="translate(971.9,263.7) scale(0.6450,1)" font-family="'Liberation Sans', sans-serif" font-size="56" font-weight="bold" font-style="italic" stroke="#000" stroke-width="1.0" stroke-linejoin="round">ρ</text>
<text transform="translate(1010.14,266.7) scale(0.6678,1)" font-family="'Liberation Sans', sans-serif" font-size="51" font-weight="bold" stroke="#000" stroke-width="1.0" stroke-linejoin="round">−</text>
<text transform="translate(1041.4,263.7) scale(0.6450,1)" font-family="'Liberation Sans', sans-serif" font-size="56" font-weight="bold" font-style="italic" stroke="#000" stroke-width="1.0" stroke-linejoin="round">p</text>
<text transform="translate(1063.37,275.2) scale(0.6450,1)" font-family="'Liberation Sans', sans-serif" font-size="44" font-weight="bold" font-style="italic" stroke="#000" stroke-width="1.0" stroke-linejoin="round">r</text>
<text transform="translate(2056.85,130) scale(0.6468,1)" font-family="'Liberation Sans', sans-serif" font-size="56" font-weight="bold" stroke="#000" stroke-width="1.2" stroke-linejoin="round">Dashed</text>
<text transform="translate(2196.75,133) scale(0.6601,1)" font-family="'Liberation Sans', sans-serif" font-size="51" font-weight="bold" stroke="#000" stroke-width="1.0" stroke-linejoin="round">=</text>
<text transform="translate(2227.6,130) scale(0.6450,1)" font-family="'Liberation Sans', sans-serif" font-size="56" font-weight="bold" font-style="italic" stroke="#000" stroke-width="1.0" stroke-linejoin="round">ρ</text>
<text transform="translate(2265.65,133) scale(0.6601,1)" font-family="'Liberation Sans', sans-serif" font-size="51" font-weight="bold" stroke="#000" stroke-width="1.0" stroke-linejoin="round">−</text>
<text transform="translate(2296.5,130) scale(0.6450,1)" font-family="'Liberation Sans', sans-serif" font-size="56" font-weight="bold" font-style="italic" stroke="#000" stroke-width="1.0" stroke-linejoin="round">p</text>
<text transform="translate(2318.07,141.5) scale(0.6450,1)" font-family="'Liberation Sans', sans-serif" font-size="44" font-weight="bold" font-style="italic" stroke="#000" stroke-width="1.0" stroke-linejoin="round">r</text>
<text transform="translate(2103.9,225.8) scale(0.6404,1)" font-family="'Liberation Sans', sans-serif" font-size="56" font-weight="bold" stroke="#000" stroke-width="1.2" stroke-linejoin="round">Solid</text>
<text transform="translate(2200.95,228.8) scale(0.6601,1)" font-family="'Liberation Sans', sans-serif" font-size="51" font-weight="bold" stroke="#000" stroke-width="1.0" stroke-linejoin="round">=</text>
<text transform="translate(2231.9,225.8) scale(0.6450,1)" font-family="'Liberation Sans', sans-serif" font-size="56" font-weight="bold" font-style="italic" stroke="#000" stroke-width="1.0" stroke-linejoin="round">ρ</text>
<text transform="translate(2260.35,228.8) scale(0.6601,1)" font-family="'Liberation Sans', sans-serif" font-size="51" font-weight="bold" stroke="#000" stroke-width="1.0" stroke-linejoin="round">+</text>
<text transform="translate(2291.2,225.8) scale(0.6450,1)" font-family="'Liberation Sans', sans-serif" font-size="56" font-weight="bold" font-style="italic" stroke="#000" stroke-width="1.0" stroke-linejoin="round">p</text>
<text transform="translate(2312.77,237.3) scale(0.6450,1)" font-family="'Liberation Sans', sans-serif" font-size="44" font-weight="bold" font-style="italic" stroke="#000" stroke-width="1.0" stroke-linejoin="round">r</text>
<text transform="translate(2929.51,370) scale(0.7119,1)" font-family="'Liberation Sans', sans-serif" font-size="66.5" font-weight="bold" stroke="#000" stroke-width="1.0" stroke-linejoin="round">Δ</text>
<text transform="translate(2971.64,374) scale(0.6300,1)" font-family="'Liberation Sans', sans-serif" font-size="54" font-weight="bold" stroke="#000" stroke-width="1.0" stroke-linejoin="round">&gt;</text>
<text transform="translate(3003.14,370) scale(0.6300,1)" font-family="'Liberation Sans', sans-serif" font-size="61.5" font-weight="bold" stroke="#000" stroke-width="1.0" stroke-linejoin="round">0</text>
<text transform="translate(8.18,1265.2) scale(1.1800,1)" font-family="'Liberation Serif', serif" font-size="64">(a)For</text>
<text transform="translate(221.38,1265.2) scale(1.0817,1)" font-family="'Liberation Serif', serif" font-size="64" font-style="italic">β</text>
<text transform="translate(282,1265.2) scale(1.1767,1)" font-family="'Liberation Serif', serif" font-size="64">variations</text>
<text transform="translate(599.2,1265.2) scale(1.1667,1)" font-family="'Liberation Serif', serif" font-size="64">with</text>
<text transform="translate(754.1,1265.2) scale(1.2500,1)" font-family="'Liberation Serif', serif" font-size="64" font-style="italic">γ</text>
<text transform="translate(811.33,1265.2) scale(1.5164,1)" font-family="'Liberation Serif', serif" font-size="64">=</text>
<text transform="translate(886.22,1265.2) scale(1.1071,1)" font-family="'Liberation Serif', serif" font-size="64">0.009,</text>
<text transform="translate(1099.72,1265.2) scale(1.0476,1)" font-family="'Liberation Serif', serif" font-size="64" font-style="italic">a</text>
<text transform="translate(1152.13,1265.2) scale(1.5164,1)" font-family="'Liberation Serif', serif" font-size="64">=</text>
<text transform="translate(6.9,1343.8) scale(1.1142,1)" font-family="'Liberation Serif', serif" font-size="64">0.03</text>
<text transform="translate(1257.75,1265.2) scale(1.1536,1)" font-family="'Liberation Serif', serif" font-size="64">(b)For</text>
<text transform="translate(1470.88,1265.2) scale(1.0817,1)" font-family="'Liberation Serif', serif" font-size="64" font-style="italic">β</text>
<text transform="translate(1531.5,1265.2) scale(1.1767,1)" font-family="'Liberation Serif', serif" font-size="64">variations</text>
<text transform="translate(1848.7,1265.2) scale(1.1667,1)" font-family="'Liberation Serif', serif" font-size="64">with</text>
<text transform="translate(2003.6,1265.2) scale(1.2500,1)" font-family="'Liberation Serif', serif" font-size="64" font-style="italic">γ</text>
<text transform="translate(2060.83,1265.2) scale(1.5164,1)" font-family="'Liberation Serif', serif" font-size="64">=</text>
<text transform="translate(2135.72,1265.2) scale(1.1071,1)" font-family="'Liberation Serif', serif" font-size="64">0.009,</text>
<text transform="translate(2349.22,1265.2) scale(1.0476,1)" font-family="'Liberation Serif', serif" font-size="64" font-style="italic">a</text>
<text transform="translate(2401.63,1265.2) scale(1.5164,1)" font-family="'Liberation Serif', serif" font-size="64">=</text>
<text transform="translate(1256.4,1343.8) scale(1.1142,1)" font-family="'Liberation Serif', serif" font-size="64">0.03</text>
<text transform="translate(2504.35,1265.2) scale(1.1507,1)" font-family="'Liberation Serif', serif" font-size="64">(c)For</text>
<text transform="translate(2774.31,1265.2) scale(1.3000,1)" font-family="'Liberation Serif', serif" font-size="64" font-style="italic">n</text>
<text transform="translate(2899.6,1265.2) scale(1.1831,1)" font-family="'Liberation Serif', serif" font-size="64">variations</text>
<text transform="translate(3282.3,1265.2) scale(1.1490,1)" font-family="'Liberation Serif', serif" font-size="64">with</text>
<text transform="translate(3497.15,1265.2) scale(1.2500,1)" font-family="'Liberation Serif', serif" font-size="64" font-style="italic">γ</text>
<text transform="translate(3651.07,1265.2) scale(1.5033,1)" font-family="'Liberation Serif', serif" font-size="64">=</text>
<text transform="translate(2504.81,1343.8) scale(1.1134,1)" font-family="'Liberation Serif', serif" font-size="64">0.0009,</text>
<text transform="translate(2757.3,1343.8) scale(1.0653,1)" font-family="'Liberation Serif', serif" font-size="64" font-style="italic">a</text>
<text transform="translate(2811.08,1343.8) scale(1.5000,1)" font-family="'Liberation Serif', serif" font-size="64">=</text>
<text transform="translate(2887.55,1343.8) scale(1.0943,1)" font-family="'Liberation Serif', serif" font-size="64">0.0003</text>
</g>
</svg></body></html>
